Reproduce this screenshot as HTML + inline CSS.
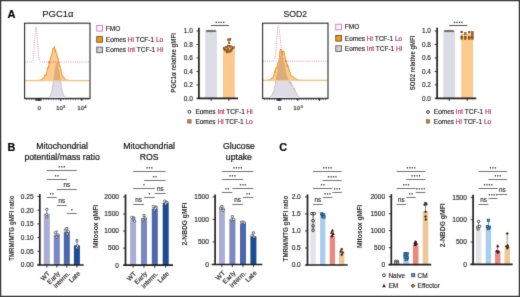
<!DOCTYPE html>
<html><head><meta charset="utf-8"><style>
html,body{margin:0;padding:0;background:#fff;}
body{width:520px;height:297px;overflow:hidden;}
svg{display:block;font-family:"Liberation Sans", sans-serif;filter:blur(0px);}
text{stroke-width:0.16px;}
</style></head><body>
<svg width="520" height="297" viewBox="0 0 520 297" font-family='"Liberation Sans", sans-serif'>
<defs><filter id="soft" x="0" y="0" width="520" height="297" filterUnits="userSpaceOnUse" color-interpolation-filters="sRGB"><feConvolveMatrix order="3" kernelMatrix="0.01134 0.08382 0.01134 0.08382 0.61935 0.08382 0.01134 0.08382 0.01134" divisor="1" edgeMode="duplicate" preserveAlpha="true"/></filter></defs>
<g filter="url(#soft)">
<rect x="0" y="0" width="520" height="297" fill="#fff"/>
<text x="7.60" y="17.60" font-size="10.3" font-weight="bold" fill="#000" stroke="#000" textLength="8.0" lengthAdjust="spacingAndGlyphs">A</text>
<text x="7.60" y="151.20" font-size="10.3" font-weight="bold" fill="#000" stroke="#000" textLength="7.8" lengthAdjust="spacingAndGlyphs">B</text>
<text x="279.20" y="151.20" font-size="10.3" font-weight="bold" fill="#000" stroke="#000" textLength="7.8" lengthAdjust="spacingAndGlyphs">C</text>
<clipPath id="clip24"><rect x="24.6" y="23.2" width="65.4" height="75.39999999999999"/></clipPath>
<g clip-path="url(#clip24)">
<path d="M24.60,97.60 L25.01,97.60 L25.42,97.60 L25.83,97.60 L26.24,97.60 L26.64,97.60 L27.05,97.60 L27.46,97.60 L27.87,97.60 L28.28,97.60 L28.69,97.60 L29.10,97.60 L29.51,97.60 L29.91,97.60 L30.32,97.60 L30.73,97.60 L31.14,97.60 L31.55,97.60 L31.96,97.60 L32.37,97.60 L32.78,97.60 L33.18,97.60 L33.59,97.60 L34.00,97.60 L34.41,97.60 L34.82,97.60 L35.23,97.60 L35.64,97.60 L36.05,97.60 L36.45,97.60 L36.86,97.60 L37.27,97.60 L37.68,97.60 L38.09,97.60 L38.50,97.60 L38.91,97.60 L39.31,97.60 L39.72,97.60 L40.13,97.60 L40.54,97.60 L40.95,97.60 L41.36,97.60 L41.77,97.60 L42.18,97.60 L42.59,97.60 L42.99,97.60 L43.40,97.60 L43.81,97.60 L44.22,97.60 L44.63,97.60 L45.04,97.59 L45.45,97.59 L45.86,97.58 L46.26,97.56 L46.67,97.54 L47.08,97.50 L47.49,97.44 L47.90,97.35 L48.31,97.25 L48.72,97.00 L49.12,96.77 L49.53,96.27 L49.94,95.70 L50.35,95.51 L50.76,94.82 L51.17,92.34 L51.58,92.09 L51.99,90.58 L52.40,86.09 L52.80,85.41 L53.21,81.61 L53.62,79.92 L54.03,76.44 L54.44,75.02 L54.85,70.60 L55.26,67.21 L55.67,66.04 L56.07,63.57 L56.48,62.60 L56.89,64.02 L57.30,61.96 L57.71,63.34 L58.12,65.74 L58.53,68.63 L58.94,68.42 L59.34,72.44 L59.75,74.59 L60.16,77.07 L60.57,80.51 L60.98,82.60 L61.39,86.79 L61.80,87.72 L62.21,90.76 L62.61,91.29 L63.02,92.94 L63.43,95.09 L63.84,95.75 L64.25,96.23 L64.66,96.33 L65.07,96.89 L65.48,97.09 L65.88,97.30 L66.29,97.39 L66.70,97.47 L67.11,97.52 L67.52,97.55 L67.93,97.57 L68.34,97.58 L68.75,97.59 L69.15,97.59 L69.56,97.60 L69.97,97.60 L70.38,97.60 L70.79,97.60 L71.20,97.60 L71.61,97.60 L72.02,97.60 L72.42,97.60 L72.83,97.60 L73.24,97.60 L73.65,97.60 L74.06,97.60 L74.47,97.60 L74.88,97.60 L75.28,97.60 L75.69,97.60 L76.10,97.60 L76.51,97.60 L76.92,97.60 L77.33,97.60 L77.74,97.60 L78.15,97.60 L78.56,97.60 L78.96,97.60 L79.37,97.60 L79.78,97.60 L80.19,97.60 L80.60,97.60 L81.01,97.60 L81.42,97.60 L81.83,97.60 L82.23,97.60 L82.64,97.60 L83.05,97.60 L83.46,97.60 L83.87,97.60 L84.28,97.60 L84.69,97.60 L85.09,97.60 L85.50,97.60 L85.91,97.60 L86.32,97.60 L86.73,97.60 L87.14,97.60 L87.55,97.60 L87.96,97.60 L88.37,97.60 L88.77,97.60 L89.18,97.60 L89.59,97.60 L90.00,97.60 L90.0,97.6 L24.6,97.6 Z" fill="#dedde6"/>
<path d="M24.60,97.60 L25.01,97.60 L25.42,97.60 L25.83,97.60 L26.24,97.60 L26.64,97.60 L27.05,97.60 L27.46,97.60 L27.87,97.60 L28.28,97.60 L28.69,97.60 L29.10,97.60 L29.51,97.60 L29.91,97.60 L30.32,97.60 L30.73,97.60 L31.14,97.60 L31.55,97.60 L31.96,97.60 L32.37,97.60 L32.78,97.60 L33.18,97.60 L33.59,97.60 L34.00,97.60 L34.41,97.60 L34.82,97.60 L35.23,97.60 L35.64,97.60 L36.05,97.60 L36.45,97.60 L36.86,97.60 L37.27,97.60 L37.68,97.60 L38.09,97.60 L38.50,97.60 L38.91,97.60 L39.31,97.60 L39.72,97.60 L40.13,97.60 L40.54,97.60 L40.95,97.60 L41.36,97.60 L41.77,97.60 L42.18,97.60 L42.59,97.60 L42.99,97.60 L43.40,97.60 L43.81,97.60 L44.22,97.60 L44.63,97.60 L45.04,97.59 L45.45,97.59 L45.86,97.58 L46.26,97.56 L46.67,97.54 L47.08,97.50 L47.49,97.44 L47.90,97.35 L48.31,97.25 L48.72,97.00 L49.12,96.77 L49.53,96.27 L49.94,95.70 L50.35,95.51 L50.76,94.82 L51.17,92.34 L51.58,92.09 L51.99,90.58 L52.40,86.09 L52.80,85.41 L53.21,81.61 L53.62,79.92 L54.03,76.44 L54.44,75.02 L54.85,70.60 L55.26,67.21 L55.67,66.04 L56.07,63.57 L56.48,62.60 L56.89,64.02 L57.30,61.96 L57.71,63.34 L58.12,65.74 L58.53,68.63 L58.94,68.42 L59.34,72.44 L59.75,74.59 L60.16,77.07 L60.57,80.51 L60.98,82.60 L61.39,86.79 L61.80,87.72 L62.21,90.76 L62.61,91.29 L63.02,92.94 L63.43,95.09 L63.84,95.75 L64.25,96.23 L64.66,96.33 L65.07,96.89 L65.48,97.09 L65.88,97.30 L66.29,97.39 L66.70,97.47 L67.11,97.52 L67.52,97.55 L67.93,97.57 L68.34,97.58 L68.75,97.59 L69.15,97.59 L69.56,97.60 L69.97,97.60 L70.38,97.60 L70.79,97.60 L71.20,97.60 L71.61,97.60 L72.02,97.60 L72.42,97.60 L72.83,97.60 L73.24,97.60 L73.65,97.60 L74.06,97.60 L74.47,97.60 L74.88,97.60 L75.28,97.60 L75.69,97.60 L76.10,97.60 L76.51,97.60 L76.92,97.60 L77.33,97.60 L77.74,97.60 L78.15,97.60 L78.56,97.60 L78.96,97.60 L79.37,97.60 L79.78,97.60 L80.19,97.60 L80.60,97.60 L81.01,97.60 L81.42,97.60 L81.83,97.60 L82.23,97.60 L82.64,97.60 L83.05,97.60 L83.46,97.60 L83.87,97.60 L84.28,97.60 L84.69,97.60 L85.09,97.60 L85.50,97.60 L85.91,97.60 L86.32,97.60 L86.73,97.60 L87.14,97.60 L87.55,97.60 L87.96,97.60 L88.37,97.60 L88.77,97.60 L89.18,97.60 L89.59,97.60 L90.00,97.60" fill="none" stroke="#a9a8b2" stroke-width="0.55"/>
<path d="M24.60,80.50 L25.01,80.50 L25.42,80.50 L25.83,80.50 L26.24,80.50 L26.64,80.50 L27.05,80.50 L27.46,80.50 L27.87,80.50 L28.28,80.50 L28.69,80.50 L29.10,80.50 L29.51,80.50 L29.91,80.50 L30.32,80.50 L30.73,80.50 L31.14,80.50 L31.55,80.50 L31.96,80.50 L32.37,80.50 L32.78,80.50 L33.18,80.50 L33.59,80.50 L34.00,80.49 L34.41,80.49 L34.82,80.49 L35.23,80.48 L35.64,80.48 L36.05,80.47 L36.45,80.46 L36.86,80.45 L37.27,80.43 L37.68,80.40 L38.09,80.37 L38.50,80.33 L38.91,80.28 L39.31,80.22 L39.72,80.19 L40.13,79.92 L40.54,80.04 L40.95,79.68 L41.36,79.79 L41.77,79.52 L42.18,78.71 L42.59,79.05 L42.99,78.24 L43.40,78.03 L43.81,77.54 L44.22,76.89 L44.63,76.95 L45.04,74.56 L45.45,75.96 L45.86,74.70 L46.26,74.75 L46.67,72.59 L47.08,70.77 L47.49,67.31 L47.90,68.25 L48.31,68.00 L48.72,65.89 L49.12,61.16 L49.53,63.73 L49.94,59.77 L50.35,59.36 L50.76,56.68 L51.17,56.74 L51.58,53.88 L51.99,53.41 L52.40,51.28 L52.80,48.49 L53.21,48.20 L53.62,48.95 L54.03,49.10 L54.44,46.01 L54.85,49.30 L55.26,51.88 L55.67,49.72 L56.07,52.43 L56.48,52.95 L56.89,53.60 L57.30,57.66 L57.71,58.91 L58.12,58.25 L58.53,63.19 L58.94,62.11 L59.34,66.72 L59.75,65.74 L60.16,67.26 L60.57,67.65 L60.98,69.51 L61.39,72.29 L61.80,74.64 L62.21,75.68 L62.61,75.39 L63.02,76.27 L63.43,77.84 L63.84,77.01 L64.25,78.16 L64.66,78.41 L65.07,79.23 L65.48,79.48 L65.88,79.81 L66.29,79.83 L66.70,80.01 L67.11,80.09 L67.52,80.19 L67.93,80.25 L68.34,80.31 L68.75,80.36 L69.15,80.40 L69.56,80.43 L69.97,80.45 L70.38,80.46 L70.79,80.47 L71.20,80.48 L71.61,80.49 L72.02,80.49 L72.42,80.49 L72.83,80.50 L73.24,80.50 L73.65,80.50 L74.06,80.50 L74.47,80.50 L74.88,80.50 L75.28,80.50 L75.69,80.50 L76.10,80.50 L76.51,80.50 L76.92,80.50 L77.33,80.50 L77.74,80.50 L78.15,80.50 L78.56,80.50 L78.96,80.50 L79.37,80.50 L79.78,80.50 L80.19,80.50 L80.60,80.50 L81.01,80.50 L81.42,80.50 L81.83,80.50 L82.23,80.50 L82.64,80.50 L83.05,80.50 L83.46,80.50 L83.87,80.50 L84.28,80.50 L84.69,80.50 L85.09,80.50 L85.50,80.50 L85.91,80.50 L86.32,80.50 L86.73,80.50 L87.14,80.50 L87.55,80.50 L87.96,80.50 L88.37,80.50 L88.77,80.50 L89.18,80.50 L89.59,80.50 L90.00,80.50 L90.0,81.1 L24.6,81.1 Z" fill="#fbc27e" fill-opacity="0.85"/>
<path d="M24.60,80.50 L25.01,80.50 L25.42,80.50 L25.83,80.50 L26.24,80.50 L26.64,80.50 L27.05,80.50 L27.46,80.50 L27.87,80.50 L28.28,80.50 L28.69,80.50 L29.10,80.50 L29.51,80.50 L29.91,80.50 L30.32,80.50 L30.73,80.50 L31.14,80.50 L31.55,80.50 L31.96,80.50 L32.37,80.50 L32.78,80.50 L33.18,80.50 L33.59,80.50 L34.00,80.49 L34.41,80.49 L34.82,80.49 L35.23,80.48 L35.64,80.48 L36.05,80.47 L36.45,80.46 L36.86,80.45 L37.27,80.43 L37.68,80.40 L38.09,80.37 L38.50,80.33 L38.91,80.28 L39.31,80.22 L39.72,80.19 L40.13,79.92 L40.54,80.04 L40.95,79.68 L41.36,79.79 L41.77,79.52 L42.18,78.71 L42.59,79.05 L42.99,78.24 L43.40,78.03 L43.81,77.54 L44.22,76.89 L44.63,76.95 L45.04,74.56 L45.45,75.96 L45.86,74.70 L46.26,74.75 L46.67,72.59 L47.08,70.77 L47.49,67.31 L47.90,68.25 L48.31,68.00 L48.72,65.89 L49.12,61.16 L49.53,63.73 L49.94,59.77 L50.35,59.36 L50.76,56.68 L51.17,56.74 L51.58,53.88 L51.99,53.41 L52.40,51.28 L52.80,48.49 L53.21,48.20 L53.62,48.95 L54.03,49.10 L54.44,46.01 L54.85,49.30 L55.26,51.88 L55.67,49.72 L56.07,52.43 L56.48,52.95 L56.89,53.60 L57.30,57.66 L57.71,58.91 L58.12,58.25 L58.53,63.19 L58.94,62.11 L59.34,66.72 L59.75,65.74 L60.16,67.26 L60.57,67.65 L60.98,69.51 L61.39,72.29 L61.80,74.64 L62.21,75.68 L62.61,75.39 L63.02,76.27 L63.43,77.84 L63.84,77.01 L64.25,78.16 L64.66,78.41 L65.07,79.23 L65.48,79.48 L65.88,79.81 L66.29,79.83 L66.70,80.01 L67.11,80.09 L67.52,80.19 L67.93,80.25 L68.34,80.31 L68.75,80.36 L69.15,80.40 L69.56,80.43 L69.97,80.45 L70.38,80.46 L70.79,80.47 L71.20,80.48 L71.61,80.49 L72.02,80.49 L72.42,80.49 L72.83,80.50 L73.24,80.50 L73.65,80.50 L74.06,80.50 L74.47,80.50 L74.88,80.50 L75.28,80.50 L75.69,80.50 L76.10,80.50 L76.51,80.50 L76.92,80.50 L77.33,80.50 L77.74,80.50 L78.15,80.50 L78.56,80.50 L78.96,80.50 L79.37,80.50 L79.78,80.50 L80.19,80.50 L80.60,80.50 L81.01,80.50 L81.42,80.50 L81.83,80.50 L82.23,80.50 L82.64,80.50 L83.05,80.50 L83.46,80.50 L83.87,80.50 L84.28,80.50 L84.69,80.50 L85.09,80.50 L85.50,80.50 L85.91,80.50 L86.32,80.50 L86.73,80.50 L87.14,80.50 L87.55,80.50 L87.96,80.50 L88.37,80.50 L88.77,80.50 L89.18,80.50 L89.59,80.50 L90.00,80.50" fill="none" stroke="#ea9016" stroke-width="0.9"/>
<clipPath id="clip24o"><path d="M24.60,80.50 L25.01,80.50 L25.42,80.50 L25.83,80.50 L26.24,80.50 L26.64,80.50 L27.05,80.50 L27.46,80.50 L27.87,80.50 L28.28,80.50 L28.69,80.50 L29.10,80.50 L29.51,80.50 L29.91,80.50 L30.32,80.50 L30.73,80.50 L31.14,80.50 L31.55,80.50 L31.96,80.50 L32.37,80.50 L32.78,80.50 L33.18,80.50 L33.59,80.50 L34.00,80.49 L34.41,80.49 L34.82,80.49 L35.23,80.48 L35.64,80.48 L36.05,80.47 L36.45,80.46 L36.86,80.45 L37.27,80.43 L37.68,80.40 L38.09,80.37 L38.50,80.33 L38.91,80.28 L39.31,80.22 L39.72,80.19 L40.13,79.92 L40.54,80.04 L40.95,79.68 L41.36,79.79 L41.77,79.52 L42.18,78.71 L42.59,79.05 L42.99,78.24 L43.40,78.03 L43.81,77.54 L44.22,76.89 L44.63,76.95 L45.04,74.56 L45.45,75.96 L45.86,74.70 L46.26,74.75 L46.67,72.59 L47.08,70.77 L47.49,67.31 L47.90,68.25 L48.31,68.00 L48.72,65.89 L49.12,61.16 L49.53,63.73 L49.94,59.77 L50.35,59.36 L50.76,56.68 L51.17,56.74 L51.58,53.88 L51.99,53.41 L52.40,51.28 L52.80,48.49 L53.21,48.20 L53.62,48.95 L54.03,49.10 L54.44,46.01 L54.85,49.30 L55.26,51.88 L55.67,49.72 L56.07,52.43 L56.48,52.95 L56.89,53.60 L57.30,57.66 L57.71,58.91 L58.12,58.25 L58.53,63.19 L58.94,62.11 L59.34,66.72 L59.75,65.74 L60.16,67.26 L60.57,67.65 L60.98,69.51 L61.39,72.29 L61.80,74.64 L62.21,75.68 L62.61,75.39 L63.02,76.27 L63.43,77.84 L63.84,77.01 L64.25,78.16 L64.66,78.41 L65.07,79.23 L65.48,79.48 L65.88,79.81 L66.29,79.83 L66.70,80.01 L67.11,80.09 L67.52,80.19 L67.93,80.25 L68.34,80.31 L68.75,80.36 L69.15,80.40 L69.56,80.43 L69.97,80.45 L70.38,80.46 L70.79,80.47 L71.20,80.48 L71.61,80.49 L72.02,80.49 L72.42,80.49 L72.83,80.50 L73.24,80.50 L73.65,80.50 L74.06,80.50 L74.47,80.50 L74.88,80.50 L75.28,80.50 L75.69,80.50 L76.10,80.50 L76.51,80.50 L76.92,80.50 L77.33,80.50 L77.74,80.50 L78.15,80.50 L78.56,80.50 L78.96,80.50 L79.37,80.50 L79.78,80.50 L80.19,80.50 L80.60,80.50 L81.01,80.50 L81.42,80.50 L81.83,80.50 L82.23,80.50 L82.64,80.50 L83.05,80.50 L83.46,80.50 L83.87,80.50 L84.28,80.50 L84.69,80.50 L85.09,80.50 L85.50,80.50 L85.91,80.50 L86.32,80.50 L86.73,80.50 L87.14,80.50 L87.55,80.50 L87.96,80.50 L88.37,80.50 L88.77,80.50 L89.18,80.50 L89.59,80.50 L90.00,80.50 L90.0,80.5 L24.6,80.5 Z"/></clipPath>
<path d="M24.60,97.60 L25.01,97.60 L25.42,97.60 L25.83,97.60 L26.24,97.60 L26.64,97.60 L27.05,97.60 L27.46,97.60 L27.87,97.60 L28.28,97.60 L28.69,97.60 L29.10,97.60 L29.51,97.60 L29.91,97.60 L30.32,97.60 L30.73,97.60 L31.14,97.60 L31.55,97.60 L31.96,97.60 L32.37,97.60 L32.78,97.60 L33.18,97.60 L33.59,97.60 L34.00,97.60 L34.41,97.60 L34.82,97.60 L35.23,97.60 L35.64,97.60 L36.05,97.60 L36.45,97.60 L36.86,97.60 L37.27,97.60 L37.68,97.60 L38.09,97.60 L38.50,97.60 L38.91,97.60 L39.31,97.60 L39.72,97.60 L40.13,97.60 L40.54,97.60 L40.95,97.60 L41.36,97.60 L41.77,97.60 L42.18,97.60 L42.59,97.60 L42.99,97.60 L43.40,97.60 L43.81,97.60 L44.22,97.60 L44.63,97.60 L45.04,97.59 L45.45,97.59 L45.86,97.58 L46.26,97.56 L46.67,97.54 L47.08,97.50 L47.49,97.44 L47.90,97.35 L48.31,97.25 L48.72,97.00 L49.12,96.77 L49.53,96.27 L49.94,95.70 L50.35,95.51 L50.76,94.82 L51.17,92.34 L51.58,92.09 L51.99,90.58 L52.40,86.09 L52.80,85.41 L53.21,81.61 L53.62,79.92 L54.03,76.44 L54.44,75.02 L54.85,70.60 L55.26,67.21 L55.67,66.04 L56.07,63.57 L56.48,62.60 L56.89,64.02 L57.30,61.96 L57.71,63.34 L58.12,65.74 L58.53,68.63 L58.94,68.42 L59.34,72.44 L59.75,74.59 L60.16,77.07 L60.57,80.51 L60.98,82.60 L61.39,86.79 L61.80,87.72 L62.21,90.76 L62.61,91.29 L63.02,92.94 L63.43,95.09 L63.84,95.75 L64.25,96.23 L64.66,96.33 L65.07,96.89 L65.48,97.09 L65.88,97.30 L66.29,97.39 L66.70,97.47 L67.11,97.52 L67.52,97.55 L67.93,97.57 L68.34,97.58 L68.75,97.59 L69.15,97.59 L69.56,97.60 L69.97,97.60 L70.38,97.60 L70.79,97.60 L71.20,97.60 L71.61,97.60 L72.02,97.60 L72.42,97.60 L72.83,97.60 L73.24,97.60 L73.65,97.60 L74.06,97.60 L74.47,97.60 L74.88,97.60 L75.28,97.60 L75.69,97.60 L76.10,97.60 L76.51,97.60 L76.92,97.60 L77.33,97.60 L77.74,97.60 L78.15,97.60 L78.56,97.60 L78.96,97.60 L79.37,97.60 L79.78,97.60 L80.19,97.60 L80.60,97.60 L81.01,97.60 L81.42,97.60 L81.83,97.60 L82.23,97.60 L82.64,97.60 L83.05,97.60 L83.46,97.60 L83.87,97.60 L84.28,97.60 L84.69,97.60 L85.09,97.60 L85.50,97.60 L85.91,97.60 L86.32,97.60 L86.73,97.60 L87.14,97.60 L87.55,97.60 L87.96,97.60 L88.37,97.60 L88.77,97.60 L89.18,97.60 L89.59,97.60 L90.00,97.60 L90.0,97.6 L24.6,97.6 Z" fill="#b88a5a" fill-opacity="0.42" clip-path="url(#clip24o)"/>
<line x1="24.60" y1="80.80" x2="90.00" y2="80.80" stroke="#f8cc98" stroke-width="0.8"/>
<path d="M24.60,62.00 L24.90,62.00 L25.19,62.00 L25.49,62.00 L25.79,62.00 L26.09,62.00 L26.38,62.00 L26.68,62.00 L26.98,62.00 L27.28,62.00 L27.57,62.00 L27.87,62.00 L28.17,62.00 L28.46,62.00 L28.76,62.00 L29.06,62.00 L29.36,62.00 L29.65,62.00 L29.95,62.00 L30.25,62.00 L30.55,61.99 L30.84,61.99 L31.14,61.97 L31.44,61.93 L31.73,61.84 L32.03,61.67 L32.33,61.35 L32.63,60.79 L32.92,59.87 L33.22,58.44 L33.52,56.34 L33.82,53.47 L34.11,49.80 L34.41,45.43 L34.71,40.65 L35.00,35.89 L35.30,31.70 L35.60,28.63 L35.90,27.11 L36.19,27.31 L36.49,28.95 L36.79,31.81 L37.09,35.55 L37.38,39.79 L37.68,44.11 L37.98,48.19 L38.27,51.77 L38.57,54.74 L38.87,57.06 L39.17,58.77 L39.46,59.98 L39.76,60.79 L40.06,61.30 L40.36,61.62 L40.65,61.80 L40.95,61.90 L41.25,61.95 L41.54,61.98 L41.84,61.99 L42.14,62.00 L42.44,62.00 L42.73,62.00 L43.03,62.00 L43.33,62.00 L43.63,62.00 L43.92,62.00 L44.22,62.00 L44.52,62.00 L44.81,62.00 L45.11,62.00 L45.41,62.00 L45.71,62.00 L46.00,62.00 L46.30,62.00 L46.60,62.00 L46.90,62.00 L47.19,62.00 L47.49,62.00 L47.79,62.00 L48.08,62.00 L48.38,62.00 L48.68,62.00 L48.98,62.00 L49.27,62.00 L49.57,62.00 L49.87,62.00 L50.17,62.00 L50.46,62.00 L50.76,62.00 L51.06,62.00 L51.35,62.00 L51.65,62.00 L51.95,62.00 L52.25,62.00 L52.54,62.00 L52.84,62.00 L53.14,62.00 L53.44,62.00 L53.73,62.00 L54.03,62.00 L54.33,62.00 L54.62,62.00 L54.92,62.00 L55.22,62.00 L55.52,62.00 L55.81,62.00 L56.11,62.00 L56.41,62.00 L56.71,62.00 L57.00,62.00 L57.30,62.00 L57.60,62.00 L57.89,62.00 L58.19,62.00 L58.49,62.00 L58.79,62.00 L59.08,62.00 L59.38,62.00 L59.68,62.00 L59.98,62.00 L60.27,62.00 L60.57,62.00 L60.87,62.00 L61.16,62.00 L61.46,62.00 L61.76,62.00 L62.06,62.00 L62.35,62.00 L62.65,62.00 L62.95,62.00 L63.25,62.00 L63.54,62.00 L63.84,62.00 L64.14,62.00 L64.43,62.00 L64.73,62.00 L65.03,62.00 L65.33,62.00 L65.62,62.00 L65.92,62.00 L66.22,62.00 L66.52,62.00 L66.81,62.00 L67.11,62.00 L67.41,62.00 L67.70,62.00 L68.00,62.00 L68.30,62.00 L68.60,62.00 L68.89,62.00 L69.19,62.00 L69.49,62.00 L69.79,62.00 L70.08,62.00 L70.38,62.00 L70.68,62.00 L70.97,62.00 L71.27,62.00 L71.57,62.00 L71.87,62.00 L72.16,62.00 L72.46,62.00 L72.76,62.00 L73.06,62.00 L73.35,62.00 L73.65,62.00 L73.95,62.00 L74.24,62.00 L74.54,62.00 L74.84,62.00 L75.14,62.00 L75.43,62.00 L75.73,62.00 L76.03,62.00 L76.33,62.00 L76.62,62.00 L76.92,62.00 L77.22,62.00 L77.51,62.00 L77.81,62.00 L78.11,62.00 L78.41,62.00 L78.70,62.00 L79.00,62.00 L79.30,62.00 L79.60,62.00 L79.89,62.00 L80.19,62.00 L80.49,62.00 L80.78,62.00 L81.08,62.00 L81.38,62.00 L81.68,62.00 L81.97,62.00 L82.27,62.00 L82.57,62.00 L82.87,62.00 L83.16,62.00 L83.46,62.00 L83.76,62.00 L84.05,62.00 L84.35,62.00 L84.65,62.00 L84.95,62.00 L85.24,62.00 L85.54,62.00 L85.84,62.00 L86.14,62.00 L86.43,62.00 L86.73,62.00 L87.03,62.00 L87.32,62.00 L87.62,62.00 L87.92,62.00 L88.22,62.00 L88.51,62.00 L88.81,62.00 L89.11,62.00 L89.41,62.00 L89.70,62.00 L90.00,62.00" fill="none" stroke="#d9418a" stroke-width="0.8" stroke-dasharray="0.9 1.3" stroke-opacity="0.9"/>
</g>
<rect x="24.60" y="23.20" width="65.40" height="75.40" fill="none" stroke="#2b2b2b" stroke-width="1.1"/>
<line x1="26.60" y1="98.60" x2="26.60" y2="100.10" stroke="#333" stroke-width="0.7"/>
<line x1="29.05" y1="98.60" x2="29.05" y2="100.10" stroke="#333" stroke-width="0.7"/>
<line x1="31.50" y1="98.60" x2="31.50" y2="100.10" stroke="#333" stroke-width="0.7"/>
<line x1="33.95" y1="98.60" x2="33.95" y2="100.10" stroke="#333" stroke-width="0.7"/>
<line x1="36.40" y1="98.60" x2="36.40" y2="100.10" stroke="#333" stroke-width="0.7"/>
<line x1="38.85" y1="98.60" x2="38.85" y2="100.10" stroke="#333" stroke-width="0.7"/>
<line x1="41.30" y1="98.60" x2="41.30" y2="100.10" stroke="#333" stroke-width="0.7"/>
<line x1="43.75" y1="98.60" x2="43.75" y2="100.10" stroke="#333" stroke-width="0.7"/>
<line x1="46.20" y1="98.60" x2="46.20" y2="100.10" stroke="#333" stroke-width="0.7"/>
<line x1="48.65" y1="98.60" x2="48.65" y2="100.10" stroke="#333" stroke-width="0.7"/>
<line x1="51.10" y1="98.60" x2="51.10" y2="100.10" stroke="#333" stroke-width="0.7"/>
<line x1="53.55" y1="98.60" x2="53.55" y2="100.10" stroke="#333" stroke-width="0.7"/>
<line x1="56.00" y1="98.60" x2="56.00" y2="100.10" stroke="#333" stroke-width="0.7"/>
<line x1="58.45" y1="98.60" x2="58.45" y2="100.10" stroke="#333" stroke-width="0.7"/>
<line x1="60.90" y1="98.60" x2="60.90" y2="100.10" stroke="#333" stroke-width="0.7"/>
<line x1="63.35" y1="98.60" x2="63.35" y2="100.10" stroke="#333" stroke-width="0.7"/>
<line x1="65.80" y1="98.60" x2="65.80" y2="100.10" stroke="#333" stroke-width="0.7"/>
<line x1="68.25" y1="98.60" x2="68.25" y2="100.10" stroke="#333" stroke-width="0.7"/>
<line x1="70.70" y1="98.60" x2="70.70" y2="100.10" stroke="#333" stroke-width="0.7"/>
<line x1="73.15" y1="98.60" x2="73.15" y2="100.10" stroke="#333" stroke-width="0.7"/>
<line x1="75.60" y1="98.60" x2="75.60" y2="100.10" stroke="#333" stroke-width="0.7"/>
<line x1="78.05" y1="98.60" x2="78.05" y2="100.10" stroke="#333" stroke-width="0.7"/>
<line x1="80.50" y1="98.60" x2="80.50" y2="100.10" stroke="#333" stroke-width="0.7"/>
<line x1="82.95" y1="98.60" x2="82.95" y2="100.10" stroke="#333" stroke-width="0.7"/>
<line x1="85.40" y1="98.60" x2="85.40" y2="100.10" stroke="#333" stroke-width="0.7"/>
<line x1="87.85" y1="98.60" x2="87.85" y2="100.10" stroke="#333" stroke-width="0.7"/>
<line x1="36.00" y1="98.60" x2="36.00" y2="101.00" stroke="#111" stroke-width="0.9"/>
<line x1="37.20" y1="98.60" x2="37.20" y2="101.00" stroke="#111" stroke-width="0.9"/>
<line x1="38.40" y1="98.60" x2="38.40" y2="101.00" stroke="#111" stroke-width="0.9"/>
<line x1="39.60" y1="98.60" x2="39.60" y2="101.00" stroke="#111" stroke-width="0.9"/>
<line x1="40.80" y1="98.60" x2="40.80" y2="101.00" stroke="#111" stroke-width="0.9"/>
<line x1="60.60" y1="98.60" x2="60.60" y2="101.00" stroke="#111" stroke-width="0.9"/>
<line x1="81.80" y1="98.60" x2="81.80" y2="101.00" stroke="#111" stroke-width="0.9"/>
<text x="57.90" y="17.10" font-size="8.7" text-anchor="middle" fill="#111" stroke="#111" textLength="31.2" lengthAdjust="spacingAndGlyphs" style="stroke-width:0.12px">PGC1α</text>
<text x="39.30" y="110.20" font-size="6.2" text-anchor="middle" fill="#231f20" stroke="#231f20">0</text>
<text x="59.40" y="110.20" font-size="6.2" text-anchor="middle" fill="#231f20" stroke="#231f20">10</text>
<text x="80.70" y="110.20" font-size="6.2" text-anchor="middle" fill="#231f20" stroke="#231f20">10</text>
<text x="63.00" y="107.90" font-size="4.2" fill="#231f20" stroke="#231f20">3</text>
<text x="84.30" y="107.90" font-size="4.2" fill="#231f20" stroke="#231f20">4</text>
<clipPath id="clip262"><rect x="262.6" y="23.2" width="65.39999999999998" height="75.39999999999999"/></clipPath>
<g clip-path="url(#clip262)">
<path d="M262.60,97.40 L263.01,97.40 L263.42,97.40 L263.83,97.40 L264.24,97.40 L264.64,97.40 L265.05,97.39 L265.46,97.39 L265.87,97.39 L266.28,97.38 L266.69,97.37 L267.10,97.35 L267.50,97.33 L267.91,97.29 L268.32,97.24 L268.73,97.18 L269.14,97.09 L269.55,96.95 L269.96,96.70 L270.37,96.59 L270.78,96.30 L271.18,95.89 L271.59,95.73 L272.00,94.90 L272.41,94.05 L272.82,92.89 L273.23,93.16 L273.64,91.62 L274.05,90.98 L274.45,87.11 L274.86,85.66 L275.27,85.71 L275.68,80.47 L276.09,78.13 L276.50,76.59 L276.91,74.08 L277.31,72.88 L277.72,70.68 L278.13,66.47 L278.54,65.55 L278.95,62.94 L279.36,60.88 L279.77,60.00 L280.18,57.47 L280.59,56.83 L280.99,55.30 L281.40,56.47 L281.81,56.48 L282.22,57.60 L282.63,57.99 L283.04,59.79 L283.45,61.71 L283.86,60.93 L284.26,62.61 L284.67,64.88 L285.08,67.16 L285.49,70.29 L285.90,72.44 L286.31,74.06 L286.72,76.48 L287.12,75.84 L287.53,78.44 L287.94,78.24 L288.35,80.75 L288.76,79.75 L289.17,80.75 L289.58,83.96 L289.99,83.67 L290.40,81.75 L290.80,83.47 L291.21,82.21 L291.62,84.53 L292.03,86.16 L292.44,85.09 L292.85,85.44 L293.26,87.95 L293.67,89.40 L294.07,89.39 L294.48,88.00 L294.89,89.20 L295.30,91.48 L295.71,91.61 L296.12,92.59 L296.53,93.44 L296.94,93.20 L297.34,95.03 L297.75,95.54 L298.16,96.29 L298.57,96.81 L298.98,96.98 L299.39,97.18 L299.80,97.28 L300.20,97.33 L300.61,97.36 L301.02,97.37 L301.43,97.38 L301.84,97.39 L302.25,97.39 L302.66,97.40 L303.07,97.40 L303.48,97.40 L303.88,97.40 L304.29,97.40 L304.70,97.40 L305.11,97.40 L305.52,97.40 L305.93,97.40 L306.34,97.40 L306.75,97.40 L307.15,97.40 L307.56,97.40 L307.97,97.40 L308.38,97.40 L308.79,97.40 L309.20,97.40 L309.61,97.40 L310.01,97.40 L310.42,97.40 L310.83,97.40 L311.24,97.40 L311.65,97.40 L312.06,97.40 L312.47,97.40 L312.88,97.40 L313.29,97.40 L313.69,97.40 L314.10,97.40 L314.51,97.40 L314.92,97.40 L315.33,97.40 L315.74,97.40 L316.15,97.40 L316.56,97.40 L316.96,97.40 L317.37,97.40 L317.78,97.40 L318.19,97.40 L318.60,97.40 L319.01,97.40 L319.42,97.40 L319.82,97.40 L320.23,97.40 L320.64,97.40 L321.05,97.40 L321.46,97.40 L321.87,97.40 L322.28,97.40 L322.69,97.40 L323.10,97.40 L323.50,97.40 L323.91,97.40 L324.32,97.40 L324.73,97.40 L325.14,97.40 L325.55,97.40 L325.96,97.40 L326.37,97.40 L326.77,97.40 L327.18,97.40 L327.59,97.40 L328.00,97.40 L328.0,97.4 L262.6,97.4 Z" fill="#dedde6"/>
<path d="M262.60,97.40 L263.01,97.40 L263.42,97.40 L263.83,97.40 L264.24,97.40 L264.64,97.40 L265.05,97.39 L265.46,97.39 L265.87,97.39 L266.28,97.38 L266.69,97.37 L267.10,97.35 L267.50,97.33 L267.91,97.29 L268.32,97.24 L268.73,97.18 L269.14,97.09 L269.55,96.95 L269.96,96.70 L270.37,96.59 L270.78,96.30 L271.18,95.89 L271.59,95.73 L272.00,94.90 L272.41,94.05 L272.82,92.89 L273.23,93.16 L273.64,91.62 L274.05,90.98 L274.45,87.11 L274.86,85.66 L275.27,85.71 L275.68,80.47 L276.09,78.13 L276.50,76.59 L276.91,74.08 L277.31,72.88 L277.72,70.68 L278.13,66.47 L278.54,65.55 L278.95,62.94 L279.36,60.88 L279.77,60.00 L280.18,57.47 L280.59,56.83 L280.99,55.30 L281.40,56.47 L281.81,56.48 L282.22,57.60 L282.63,57.99 L283.04,59.79 L283.45,61.71 L283.86,60.93 L284.26,62.61 L284.67,64.88 L285.08,67.16 L285.49,70.29 L285.90,72.44 L286.31,74.06 L286.72,76.48 L287.12,75.84 L287.53,78.44 L287.94,78.24 L288.35,80.75 L288.76,79.75 L289.17,80.75 L289.58,83.96 L289.99,83.67 L290.40,81.75 L290.80,83.47 L291.21,82.21 L291.62,84.53 L292.03,86.16 L292.44,85.09 L292.85,85.44 L293.26,87.95 L293.67,89.40 L294.07,89.39 L294.48,88.00 L294.89,89.20 L295.30,91.48 L295.71,91.61 L296.12,92.59 L296.53,93.44 L296.94,93.20 L297.34,95.03 L297.75,95.54 L298.16,96.29 L298.57,96.81 L298.98,96.98 L299.39,97.18 L299.80,97.28 L300.20,97.33 L300.61,97.36 L301.02,97.37 L301.43,97.38 L301.84,97.39 L302.25,97.39 L302.66,97.40 L303.07,97.40 L303.48,97.40 L303.88,97.40 L304.29,97.40 L304.70,97.40 L305.11,97.40 L305.52,97.40 L305.93,97.40 L306.34,97.40 L306.75,97.40 L307.15,97.40 L307.56,97.40 L307.97,97.40 L308.38,97.40 L308.79,97.40 L309.20,97.40 L309.61,97.40 L310.01,97.40 L310.42,97.40 L310.83,97.40 L311.24,97.40 L311.65,97.40 L312.06,97.40 L312.47,97.40 L312.88,97.40 L313.29,97.40 L313.69,97.40 L314.10,97.40 L314.51,97.40 L314.92,97.40 L315.33,97.40 L315.74,97.40 L316.15,97.40 L316.56,97.40 L316.96,97.40 L317.37,97.40 L317.78,97.40 L318.19,97.40 L318.60,97.40 L319.01,97.40 L319.42,97.40 L319.82,97.40 L320.23,97.40 L320.64,97.40 L321.05,97.40 L321.46,97.40 L321.87,97.40 L322.28,97.40 L322.69,97.40 L323.10,97.40 L323.50,97.40 L323.91,97.40 L324.32,97.40 L324.73,97.40 L325.14,97.40 L325.55,97.40 L325.96,97.40 L326.37,97.40 L326.77,97.40 L327.18,97.40 L327.59,97.40 L328.00,97.40" fill="none" stroke="#a9a8b2" stroke-width="0.55"/>
<path d="M262.60,80.30 L263.01,80.30 L263.42,80.29 L263.83,80.29 L264.24,80.29 L264.64,80.28 L265.05,80.27 L265.46,80.26 L265.87,80.25 L266.28,80.23 L266.69,80.21 L267.10,80.18 L267.50,80.14 L267.91,80.08 L268.32,80.01 L268.73,79.96 L269.14,79.83 L269.55,79.71 L269.96,79.54 L270.37,79.36 L270.78,78.96 L271.18,78.97 L271.59,78.27 L272.00,78.61 L272.41,77.80 L272.82,77.23 L273.23,77.06 L273.64,74.89 L274.05,75.28 L274.45,72.72 L274.86,70.84 L275.27,72.70 L275.68,68.68 L276.09,67.78 L276.50,67.04 L276.91,68.46 L277.31,65.13 L277.72,62.93 L278.13,62.93 L278.54,61.78 L278.95,59.75 L279.36,57.61 L279.77,51.83 L280.18,50.40 L280.59,49.05 L280.99,49.60 L281.40,50.12 L281.81,53.90 L282.22,55.22 L282.63,51.17 L283.04,51.56 L283.45,50.87 L283.86,50.94 L284.26,52.38 L284.67,54.87 L285.08,57.08 L285.49,58.68 L285.90,62.06 L286.31,60.69 L286.72,61.94 L287.12,66.47 L287.53,64.19 L287.94,67.08 L288.35,66.48 L288.76,69.64 L289.17,69.35 L289.58,71.87 L289.99,72.09 L290.40,73.37 L290.80,75.70 L291.21,75.77 L291.62,75.94 L292.03,75.89 L292.44,76.39 L292.85,76.42 L293.26,76.61 L293.67,77.44 L294.07,77.89 L294.48,77.94 L294.89,77.74 L295.30,78.26 L295.71,78.66 L296.12,78.80 L296.53,79.39 L296.94,79.62 L297.34,79.75 L297.75,79.85 L298.16,79.97 L298.57,79.93 L298.98,80.03 L299.39,80.10 L299.80,80.15 L300.20,80.19 L300.61,80.22 L301.02,80.25 L301.43,80.26 L301.84,80.27 L302.25,80.28 L302.66,80.29 L303.07,80.29 L303.48,80.30 L303.88,80.30 L304.29,80.30 L304.70,80.30 L305.11,80.30 L305.52,80.30 L305.93,80.30 L306.34,80.30 L306.75,80.30 L307.15,80.30 L307.56,80.30 L307.97,80.30 L308.38,80.30 L308.79,80.30 L309.20,80.30 L309.61,80.30 L310.01,80.30 L310.42,80.30 L310.83,80.30 L311.24,80.30 L311.65,80.30 L312.06,80.30 L312.47,80.30 L312.88,80.30 L313.29,80.30 L313.69,80.30 L314.10,80.30 L314.51,80.30 L314.92,80.30 L315.33,80.30 L315.74,80.30 L316.15,80.30 L316.56,80.30 L316.96,80.30 L317.37,80.30 L317.78,80.30 L318.19,80.30 L318.60,80.30 L319.01,80.30 L319.42,80.30 L319.82,80.30 L320.23,80.30 L320.64,80.30 L321.05,80.30 L321.46,80.30 L321.87,80.30 L322.28,80.30 L322.69,80.30 L323.10,80.30 L323.50,80.30 L323.91,80.30 L324.32,80.30 L324.73,80.30 L325.14,80.30 L325.55,80.30 L325.96,80.30 L326.37,80.30 L326.77,80.30 L327.18,80.30 L327.59,80.30 L328.00,80.30 L328.0,80.89999999999999 L262.6,80.89999999999999 Z" fill="#fbc27e" fill-opacity="0.85"/>
<path d="M262.60,80.30 L263.01,80.30 L263.42,80.29 L263.83,80.29 L264.24,80.29 L264.64,80.28 L265.05,80.27 L265.46,80.26 L265.87,80.25 L266.28,80.23 L266.69,80.21 L267.10,80.18 L267.50,80.14 L267.91,80.08 L268.32,80.01 L268.73,79.96 L269.14,79.83 L269.55,79.71 L269.96,79.54 L270.37,79.36 L270.78,78.96 L271.18,78.97 L271.59,78.27 L272.00,78.61 L272.41,77.80 L272.82,77.23 L273.23,77.06 L273.64,74.89 L274.05,75.28 L274.45,72.72 L274.86,70.84 L275.27,72.70 L275.68,68.68 L276.09,67.78 L276.50,67.04 L276.91,68.46 L277.31,65.13 L277.72,62.93 L278.13,62.93 L278.54,61.78 L278.95,59.75 L279.36,57.61 L279.77,51.83 L280.18,50.40 L280.59,49.05 L280.99,49.60 L281.40,50.12 L281.81,53.90 L282.22,55.22 L282.63,51.17 L283.04,51.56 L283.45,50.87 L283.86,50.94 L284.26,52.38 L284.67,54.87 L285.08,57.08 L285.49,58.68 L285.90,62.06 L286.31,60.69 L286.72,61.94 L287.12,66.47 L287.53,64.19 L287.94,67.08 L288.35,66.48 L288.76,69.64 L289.17,69.35 L289.58,71.87 L289.99,72.09 L290.40,73.37 L290.80,75.70 L291.21,75.77 L291.62,75.94 L292.03,75.89 L292.44,76.39 L292.85,76.42 L293.26,76.61 L293.67,77.44 L294.07,77.89 L294.48,77.94 L294.89,77.74 L295.30,78.26 L295.71,78.66 L296.12,78.80 L296.53,79.39 L296.94,79.62 L297.34,79.75 L297.75,79.85 L298.16,79.97 L298.57,79.93 L298.98,80.03 L299.39,80.10 L299.80,80.15 L300.20,80.19 L300.61,80.22 L301.02,80.25 L301.43,80.26 L301.84,80.27 L302.25,80.28 L302.66,80.29 L303.07,80.29 L303.48,80.30 L303.88,80.30 L304.29,80.30 L304.70,80.30 L305.11,80.30 L305.52,80.30 L305.93,80.30 L306.34,80.30 L306.75,80.30 L307.15,80.30 L307.56,80.30 L307.97,80.30 L308.38,80.30 L308.79,80.30 L309.20,80.30 L309.61,80.30 L310.01,80.30 L310.42,80.30 L310.83,80.30 L311.24,80.30 L311.65,80.30 L312.06,80.30 L312.47,80.30 L312.88,80.30 L313.29,80.30 L313.69,80.30 L314.10,80.30 L314.51,80.30 L314.92,80.30 L315.33,80.30 L315.74,80.30 L316.15,80.30 L316.56,80.30 L316.96,80.30 L317.37,80.30 L317.78,80.30 L318.19,80.30 L318.60,80.30 L319.01,80.30 L319.42,80.30 L319.82,80.30 L320.23,80.30 L320.64,80.30 L321.05,80.30 L321.46,80.30 L321.87,80.30 L322.28,80.30 L322.69,80.30 L323.10,80.30 L323.50,80.30 L323.91,80.30 L324.32,80.30 L324.73,80.30 L325.14,80.30 L325.55,80.30 L325.96,80.30 L326.37,80.30 L326.77,80.30 L327.18,80.30 L327.59,80.30 L328.00,80.30" fill="none" stroke="#ea9016" stroke-width="0.9"/>
<clipPath id="clip262o"><path d="M262.60,80.30 L263.01,80.30 L263.42,80.29 L263.83,80.29 L264.24,80.29 L264.64,80.28 L265.05,80.27 L265.46,80.26 L265.87,80.25 L266.28,80.23 L266.69,80.21 L267.10,80.18 L267.50,80.14 L267.91,80.08 L268.32,80.01 L268.73,79.96 L269.14,79.83 L269.55,79.71 L269.96,79.54 L270.37,79.36 L270.78,78.96 L271.18,78.97 L271.59,78.27 L272.00,78.61 L272.41,77.80 L272.82,77.23 L273.23,77.06 L273.64,74.89 L274.05,75.28 L274.45,72.72 L274.86,70.84 L275.27,72.70 L275.68,68.68 L276.09,67.78 L276.50,67.04 L276.91,68.46 L277.31,65.13 L277.72,62.93 L278.13,62.93 L278.54,61.78 L278.95,59.75 L279.36,57.61 L279.77,51.83 L280.18,50.40 L280.59,49.05 L280.99,49.60 L281.40,50.12 L281.81,53.90 L282.22,55.22 L282.63,51.17 L283.04,51.56 L283.45,50.87 L283.86,50.94 L284.26,52.38 L284.67,54.87 L285.08,57.08 L285.49,58.68 L285.90,62.06 L286.31,60.69 L286.72,61.94 L287.12,66.47 L287.53,64.19 L287.94,67.08 L288.35,66.48 L288.76,69.64 L289.17,69.35 L289.58,71.87 L289.99,72.09 L290.40,73.37 L290.80,75.70 L291.21,75.77 L291.62,75.94 L292.03,75.89 L292.44,76.39 L292.85,76.42 L293.26,76.61 L293.67,77.44 L294.07,77.89 L294.48,77.94 L294.89,77.74 L295.30,78.26 L295.71,78.66 L296.12,78.80 L296.53,79.39 L296.94,79.62 L297.34,79.75 L297.75,79.85 L298.16,79.97 L298.57,79.93 L298.98,80.03 L299.39,80.10 L299.80,80.15 L300.20,80.19 L300.61,80.22 L301.02,80.25 L301.43,80.26 L301.84,80.27 L302.25,80.28 L302.66,80.29 L303.07,80.29 L303.48,80.30 L303.88,80.30 L304.29,80.30 L304.70,80.30 L305.11,80.30 L305.52,80.30 L305.93,80.30 L306.34,80.30 L306.75,80.30 L307.15,80.30 L307.56,80.30 L307.97,80.30 L308.38,80.30 L308.79,80.30 L309.20,80.30 L309.61,80.30 L310.01,80.30 L310.42,80.30 L310.83,80.30 L311.24,80.30 L311.65,80.30 L312.06,80.30 L312.47,80.30 L312.88,80.30 L313.29,80.30 L313.69,80.30 L314.10,80.30 L314.51,80.30 L314.92,80.30 L315.33,80.30 L315.74,80.30 L316.15,80.30 L316.56,80.30 L316.96,80.30 L317.37,80.30 L317.78,80.30 L318.19,80.30 L318.60,80.30 L319.01,80.30 L319.42,80.30 L319.82,80.30 L320.23,80.30 L320.64,80.30 L321.05,80.30 L321.46,80.30 L321.87,80.30 L322.28,80.30 L322.69,80.30 L323.10,80.30 L323.50,80.30 L323.91,80.30 L324.32,80.30 L324.73,80.30 L325.14,80.30 L325.55,80.30 L325.96,80.30 L326.37,80.30 L326.77,80.30 L327.18,80.30 L327.59,80.30 L328.00,80.30 L328.0,80.3 L262.6,80.3 Z"/></clipPath>
<path d="M262.60,97.40 L263.01,97.40 L263.42,97.40 L263.83,97.40 L264.24,97.40 L264.64,97.40 L265.05,97.39 L265.46,97.39 L265.87,97.39 L266.28,97.38 L266.69,97.37 L267.10,97.35 L267.50,97.33 L267.91,97.29 L268.32,97.24 L268.73,97.18 L269.14,97.09 L269.55,96.95 L269.96,96.70 L270.37,96.59 L270.78,96.30 L271.18,95.89 L271.59,95.73 L272.00,94.90 L272.41,94.05 L272.82,92.89 L273.23,93.16 L273.64,91.62 L274.05,90.98 L274.45,87.11 L274.86,85.66 L275.27,85.71 L275.68,80.47 L276.09,78.13 L276.50,76.59 L276.91,74.08 L277.31,72.88 L277.72,70.68 L278.13,66.47 L278.54,65.55 L278.95,62.94 L279.36,60.88 L279.77,60.00 L280.18,57.47 L280.59,56.83 L280.99,55.30 L281.40,56.47 L281.81,56.48 L282.22,57.60 L282.63,57.99 L283.04,59.79 L283.45,61.71 L283.86,60.93 L284.26,62.61 L284.67,64.88 L285.08,67.16 L285.49,70.29 L285.90,72.44 L286.31,74.06 L286.72,76.48 L287.12,75.84 L287.53,78.44 L287.94,78.24 L288.35,80.75 L288.76,79.75 L289.17,80.75 L289.58,83.96 L289.99,83.67 L290.40,81.75 L290.80,83.47 L291.21,82.21 L291.62,84.53 L292.03,86.16 L292.44,85.09 L292.85,85.44 L293.26,87.95 L293.67,89.40 L294.07,89.39 L294.48,88.00 L294.89,89.20 L295.30,91.48 L295.71,91.61 L296.12,92.59 L296.53,93.44 L296.94,93.20 L297.34,95.03 L297.75,95.54 L298.16,96.29 L298.57,96.81 L298.98,96.98 L299.39,97.18 L299.80,97.28 L300.20,97.33 L300.61,97.36 L301.02,97.37 L301.43,97.38 L301.84,97.39 L302.25,97.39 L302.66,97.40 L303.07,97.40 L303.48,97.40 L303.88,97.40 L304.29,97.40 L304.70,97.40 L305.11,97.40 L305.52,97.40 L305.93,97.40 L306.34,97.40 L306.75,97.40 L307.15,97.40 L307.56,97.40 L307.97,97.40 L308.38,97.40 L308.79,97.40 L309.20,97.40 L309.61,97.40 L310.01,97.40 L310.42,97.40 L310.83,97.40 L311.24,97.40 L311.65,97.40 L312.06,97.40 L312.47,97.40 L312.88,97.40 L313.29,97.40 L313.69,97.40 L314.10,97.40 L314.51,97.40 L314.92,97.40 L315.33,97.40 L315.74,97.40 L316.15,97.40 L316.56,97.40 L316.96,97.40 L317.37,97.40 L317.78,97.40 L318.19,97.40 L318.60,97.40 L319.01,97.40 L319.42,97.40 L319.82,97.40 L320.23,97.40 L320.64,97.40 L321.05,97.40 L321.46,97.40 L321.87,97.40 L322.28,97.40 L322.69,97.40 L323.10,97.40 L323.50,97.40 L323.91,97.40 L324.32,97.40 L324.73,97.40 L325.14,97.40 L325.55,97.40 L325.96,97.40 L326.37,97.40 L326.77,97.40 L327.18,97.40 L327.59,97.40 L328.00,97.40 L328.0,97.4 L262.6,97.4 Z" fill="#b88a5a" fill-opacity="0.42" clip-path="url(#clip262o)"/>
<line x1="262.60" y1="80.60" x2="328.00" y2="80.60" stroke="#f8cc98" stroke-width="0.8"/>
<path d="M262.60,61.20 L262.90,61.20 L263.19,61.20 L263.49,61.20 L263.79,61.20 L264.09,61.20 L264.38,61.20 L264.68,61.20 L264.98,61.20 L265.28,61.20 L265.57,61.20 L265.87,61.20 L266.17,61.20 L266.46,61.20 L266.76,61.20 L267.06,61.20 L267.36,61.20 L267.65,61.20 L267.95,61.20 L268.25,61.20 L268.55,61.20 L268.84,61.20 L269.14,61.20 L269.44,61.20 L269.73,61.20 L270.03,61.20 L270.33,61.20 L270.63,61.20 L270.92,61.20 L271.22,61.20 L271.52,61.20 L271.82,61.20 L272.11,61.19 L272.41,61.18 L272.71,61.16 L273.00,61.11 L273.30,61.03 L273.60,60.88 L273.90,60.62 L274.19,60.20 L274.49,59.53 L274.79,58.53 L275.09,57.09 L275.38,55.12 L275.68,52.54 L275.98,49.36 L276.27,45.62 L276.57,41.50 L276.87,37.25 L277.17,33.20 L277.46,29.73 L277.76,27.19 L278.06,25.86 L278.36,25.79 L278.65,26.44 L278.95,27.70 L279.25,29.50 L279.54,31.75 L279.84,34.33 L280.14,37.13 L280.44,40.02 L280.73,42.91 L281.03,45.69 L281.33,48.28 L281.63,50.64 L281.92,52.72 L282.22,54.51 L282.52,56.02 L282.81,57.27 L283.11,58.26 L283.41,59.05 L283.71,59.65 L284.00,60.11 L284.30,60.44 L284.60,60.68 L284.90,60.85 L285.19,60.97 L285.49,61.05 L285.79,61.11 L286.08,61.14 L286.38,61.16 L286.68,61.18 L286.98,61.19 L287.27,61.19 L287.57,61.20 L287.87,61.20 L288.17,61.20 L288.46,61.20 L288.76,61.20 L289.06,61.20 L289.35,61.20 L289.65,61.20 L289.95,61.20 L290.25,61.20 L290.54,61.20 L290.84,61.20 L291.14,61.20 L291.44,61.20 L291.73,61.20 L292.03,61.20 L292.33,61.20 L292.62,61.20 L292.92,61.20 L293.22,61.20 L293.52,61.20 L293.81,61.20 L294.11,61.20 L294.41,61.20 L294.71,61.20 L295.00,61.20 L295.30,61.20 L295.60,61.20 L295.89,61.20 L296.19,61.20 L296.49,61.20 L296.79,61.20 L297.08,61.20 L297.38,61.20 L297.68,61.20 L297.98,61.20 L298.27,61.20 L298.57,61.20 L298.87,61.20 L299.16,61.20 L299.46,61.20 L299.76,61.20 L300.06,61.20 L300.35,61.20 L300.65,61.20 L300.95,61.20 L301.25,61.20 L301.54,61.20 L301.84,61.20 L302.14,61.20 L302.43,61.20 L302.73,61.20 L303.03,61.20 L303.33,61.20 L303.62,61.20 L303.92,61.20 L304.22,61.20 L304.52,61.20 L304.81,61.20 L305.11,61.20 L305.41,61.20 L305.70,61.20 L306.00,61.20 L306.30,61.20 L306.60,61.20 L306.89,61.20 L307.19,61.20 L307.49,61.20 L307.79,61.20 L308.08,61.20 L308.38,61.20 L308.68,61.20 L308.97,61.20 L309.27,61.20 L309.57,61.20 L309.87,61.20 L310.16,61.20 L310.46,61.20 L310.76,61.20 L311.06,61.20 L311.35,61.20 L311.65,61.20 L311.95,61.20 L312.24,61.20 L312.54,61.20 L312.84,61.20 L313.14,61.20 L313.43,61.20 L313.73,61.20 L314.03,61.20 L314.33,61.20 L314.62,61.20 L314.92,61.20 L315.22,61.20 L315.51,61.20 L315.81,61.20 L316.11,61.20 L316.41,61.20 L316.70,61.20 L317.00,61.20 L317.30,61.20 L317.60,61.20 L317.89,61.20 L318.19,61.20 L318.49,61.20 L318.78,61.20 L319.08,61.20 L319.38,61.20 L319.68,61.20 L319.97,61.20 L320.27,61.20 L320.57,61.20 L320.87,61.20 L321.16,61.20 L321.46,61.20 L321.76,61.20 L322.05,61.20 L322.35,61.20 L322.65,61.20 L322.95,61.20 L323.24,61.20 L323.54,61.20 L323.84,61.20 L324.14,61.20 L324.43,61.20 L324.73,61.20 L325.03,61.20 L325.32,61.20 L325.62,61.20 L325.92,61.20 L326.22,61.20 L326.51,61.20 L326.81,61.20 L327.11,61.20 L327.41,61.20 L327.70,61.20 L328.00,61.20" fill="none" stroke="#d9418a" stroke-width="0.8" stroke-dasharray="0.9 1.3" stroke-opacity="0.9"/>
</g>
<rect x="262.60" y="23.20" width="65.40" height="75.40" fill="none" stroke="#2b2b2b" stroke-width="1.1"/>
<line x1="264.60" y1="98.60" x2="264.60" y2="100.10" stroke="#333" stroke-width="0.7"/>
<line x1="267.05" y1="98.60" x2="267.05" y2="100.10" stroke="#333" stroke-width="0.7"/>
<line x1="269.50" y1="98.60" x2="269.50" y2="100.10" stroke="#333" stroke-width="0.7"/>
<line x1="271.95" y1="98.60" x2="271.95" y2="100.10" stroke="#333" stroke-width="0.7"/>
<line x1="274.40" y1="98.60" x2="274.40" y2="100.10" stroke="#333" stroke-width="0.7"/>
<line x1="276.85" y1="98.60" x2="276.85" y2="100.10" stroke="#333" stroke-width="0.7"/>
<line x1="279.30" y1="98.60" x2="279.30" y2="100.10" stroke="#333" stroke-width="0.7"/>
<line x1="281.75" y1="98.60" x2="281.75" y2="100.10" stroke="#333" stroke-width="0.7"/>
<line x1="284.20" y1="98.60" x2="284.20" y2="100.10" stroke="#333" stroke-width="0.7"/>
<line x1="286.65" y1="98.60" x2="286.65" y2="100.10" stroke="#333" stroke-width="0.7"/>
<line x1="289.10" y1="98.60" x2="289.10" y2="100.10" stroke="#333" stroke-width="0.7"/>
<line x1="291.55" y1="98.60" x2="291.55" y2="100.10" stroke="#333" stroke-width="0.7"/>
<line x1="294.00" y1="98.60" x2="294.00" y2="100.10" stroke="#333" stroke-width="0.7"/>
<line x1="296.45" y1="98.60" x2="296.45" y2="100.10" stroke="#333" stroke-width="0.7"/>
<line x1="298.90" y1="98.60" x2="298.90" y2="100.10" stroke="#333" stroke-width="0.7"/>
<line x1="301.35" y1="98.60" x2="301.35" y2="100.10" stroke="#333" stroke-width="0.7"/>
<line x1="303.80" y1="98.60" x2="303.80" y2="100.10" stroke="#333" stroke-width="0.7"/>
<line x1="306.25" y1="98.60" x2="306.25" y2="100.10" stroke="#333" stroke-width="0.7"/>
<line x1="308.70" y1="98.60" x2="308.70" y2="100.10" stroke="#333" stroke-width="0.7"/>
<line x1="311.15" y1="98.60" x2="311.15" y2="100.10" stroke="#333" stroke-width="0.7"/>
<line x1="313.60" y1="98.60" x2="313.60" y2="100.10" stroke="#333" stroke-width="0.7"/>
<line x1="316.05" y1="98.60" x2="316.05" y2="100.10" stroke="#333" stroke-width="0.7"/>
<line x1="318.50" y1="98.60" x2="318.50" y2="100.10" stroke="#333" stroke-width="0.7"/>
<line x1="320.95" y1="98.60" x2="320.95" y2="100.10" stroke="#333" stroke-width="0.7"/>
<line x1="323.40" y1="98.60" x2="323.40" y2="100.10" stroke="#333" stroke-width="0.7"/>
<line x1="325.85" y1="98.60" x2="325.85" y2="100.10" stroke="#333" stroke-width="0.7"/>
<line x1="277.20" y1="98.60" x2="277.20" y2="101.00" stroke="#111" stroke-width="0.9"/>
<line x1="278.40" y1="98.60" x2="278.40" y2="101.00" stroke="#111" stroke-width="0.9"/>
<line x1="279.60" y1="98.60" x2="279.60" y2="101.00" stroke="#111" stroke-width="0.9"/>
<line x1="280.80" y1="98.60" x2="280.80" y2="101.00" stroke="#111" stroke-width="0.9"/>
<line x1="297.70" y1="98.60" x2="297.70" y2="101.00" stroke="#111" stroke-width="0.9"/>
<line x1="319.50" y1="98.60" x2="319.50" y2="101.00" stroke="#111" stroke-width="0.9"/>
<text x="295.30" y="17.10" font-size="8.7" text-anchor="middle" fill="#111" stroke="#111" style="stroke-width:0.12px">SOD2</text>
<text x="279.40" y="110.20" font-size="6.2" text-anchor="middle" fill="#231f20" stroke="#231f20">0</text>
<text x="296.80" y="110.20" font-size="6.2" text-anchor="middle" fill="#231f20" stroke="#231f20">10</text>
<text x="300.40" y="107.90" font-size="4.2" fill="#231f20" stroke="#231f20">3</text>
<rect x="96.80" y="25.50" width="5.60" height="5.60" fill="#fff" stroke="#e0569a" stroke-width="0.8"/>
<rect x="96.80" y="36.60" width="5.60" height="5.60" fill="#f39a1e" stroke="#5a3a10" stroke-width="0.8"/>
<rect x="96.80" y="47.10" width="5.60" height="5.60" fill="#d2d2d4" stroke="#4a4a4a" stroke-width="0.8"/>
<text x="105.80" y="30.65" font-size="6.5" fill="#231f20" stroke="#231f20">FMO</text>
<text x="105.80" y="41.75" font-size="6.5" fill="#231f20" stroke="#231f20">Eomes <tspan fill="#bf2150" stroke="#bf2150">Hi</tspan> TCF-1 <tspan fill="#ad2a68" stroke="#ad2a68">Lo</tspan></text>
<text x="105.80" y="52.25" font-size="6.5" fill="#231f20" stroke="#231f20">Eomes <tspan fill="#bf2150" stroke="#bf2150">Int</tspan> TCF-1 <tspan fill="#ad2a68" stroke="#ad2a68">Hi</tspan></text>
<rect x="335.80" y="24.20" width="5.60" height="5.60" fill="#fff" stroke="#e0569a" stroke-width="0.8"/>
<rect x="335.80" y="35.50" width="5.60" height="5.60" fill="#f39a1e" stroke="#5a3a10" stroke-width="0.8"/>
<rect x="335.80" y="45.80" width="5.60" height="5.60" fill="#d2d2d4" stroke="#4a4a4a" stroke-width="0.8"/>
<text x="344.80" y="29.35" font-size="6.5" fill="#231f20" stroke="#231f20">FMO</text>
<text x="344.80" y="40.65" font-size="6.5" fill="#231f20" stroke="#231f20">Eomes <tspan fill="#bf2150" stroke="#bf2150">Hi</tspan> TCF-1 <tspan fill="#ad2a68" stroke="#ad2a68">Lo</tspan></text>
<text x="344.80" y="50.95" font-size="6.5" fill="#231f20" stroke="#231f20">Eomes <tspan fill="#bf2150" stroke="#bf2150">Int</tspan> TCF-1 <tspan fill="#ad2a68" stroke="#ad2a68">Hi</tspan></text>
<rect x="205.20" y="31.00" width="11.80" height="67.40" fill="#dcdce5"/>
<rect x="223.00" y="47.30" width="11.80" height="51.10" fill="#fcc98e"/>
<line x1="198.90" y1="27.80" x2="198.90" y2="98.40" stroke="#231f20" stroke-width="1.7"/>
<line x1="196.50" y1="98.40" x2="198.90" y2="98.40" stroke="#231f20" stroke-width="0.9"/>
<text x="192.80" y="100.70" font-size="6.5" text-anchor="end" fill="#2a2a2a" stroke="#2a2a2a">0.0</text>
<line x1="196.50" y1="84.92" x2="198.90" y2="84.92" stroke="#231f20" stroke-width="0.9"/>
<text x="192.80" y="87.22" font-size="6.5" text-anchor="end" fill="#2a2a2a" stroke="#2a2a2a">0.2</text>
<line x1="196.50" y1="71.44" x2="198.90" y2="71.44" stroke="#231f20" stroke-width="0.9"/>
<text x="192.80" y="73.74" font-size="6.5" text-anchor="end" fill="#2a2a2a" stroke="#2a2a2a">0.4</text>
<line x1="196.50" y1="57.96" x2="198.90" y2="57.96" stroke="#231f20" stroke-width="0.9"/>
<text x="192.80" y="60.26" font-size="6.5" text-anchor="end" fill="#2a2a2a" stroke="#2a2a2a">0.6</text>
<line x1="196.50" y1="44.48" x2="198.90" y2="44.48" stroke="#231f20" stroke-width="0.9"/>
<text x="192.80" y="46.78" font-size="6.5" text-anchor="end" fill="#2a2a2a" stroke="#2a2a2a">0.8</text>
<line x1="196.50" y1="31.00" x2="198.90" y2="31.00" stroke="#231f20" stroke-width="0.9"/>
<text x="192.80" y="33.30" font-size="6.5" text-anchor="end" fill="#2a2a2a" stroke="#2a2a2a">1.0</text>
<line x1="197.40" y1="98.40" x2="238.00" y2="98.40" stroke="#231f20" stroke-width="1.7"/>
<line x1="211.10" y1="98.40" x2="211.10" y2="101.00" stroke="#231f20" stroke-width="0.9"/>
<line x1="228.90" y1="98.40" x2="228.90" y2="101.00" stroke="#231f20" stroke-width="0.9"/>
<circle cx="206.80" cy="31.00" r="0.75" fill="#777" stroke="#444" stroke-width="0.4"/>
<circle cx="208.00" cy="31.00" r="0.75" fill="#777" stroke="#444" stroke-width="0.4"/>
<circle cx="209.20" cy="31.00" r="0.75" fill="#777" stroke="#444" stroke-width="0.4"/>
<circle cx="210.40" cy="31.00" r="0.75" fill="#777" stroke="#444" stroke-width="0.4"/>
<circle cx="211.60" cy="31.00" r="0.75" fill="#777" stroke="#444" stroke-width="0.4"/>
<circle cx="212.80" cy="31.00" r="0.75" fill="#777" stroke="#444" stroke-width="0.4"/>
<circle cx="214.00" cy="31.00" r="0.75" fill="#777" stroke="#444" stroke-width="0.4"/>
<circle cx="215.20" cy="31.00" r="0.75" fill="#777" stroke="#444" stroke-width="0.4"/>
<rect x="227.50" y="38.90" width="1.8" height="1.8" fill="#b0691c" stroke="#6a3a08" stroke-width="0.45"/>
<rect x="229.10" y="38.70" width="1.8" height="1.8" fill="#b0691c" stroke="#6a3a08" stroke-width="0.45"/>
<rect x="228.10" y="41.90" width="1.8" height="1.8" fill="#b0691c" stroke="#6a3a08" stroke-width="0.45"/>
<rect x="223.10" y="47.60" width="1.8" height="1.8" fill="#b0691c" stroke="#6a3a08" stroke-width="0.45"/>
<rect x="225.60" y="46.10" width="1.8" height="1.8" fill="#b0691c" stroke="#6a3a08" stroke-width="0.45"/>
<rect x="227.60" y="45.10" width="1.8" height="1.8" fill="#b0691c" stroke="#6a3a08" stroke-width="0.45"/>
<rect x="229.60" y="45.60" width="1.8" height="1.8" fill="#b0691c" stroke="#6a3a08" stroke-width="0.45"/>
<rect x="232.60" y="46.60" width="1.8" height="1.8" fill="#b0691c" stroke="#6a3a08" stroke-width="0.45"/>
<rect x="224.60" y="49.10" width="1.8" height="1.8" fill="#b0691c" stroke="#6a3a08" stroke-width="0.45"/>
<rect x="227.10" y="48.60" width="1.8" height="1.8" fill="#b0691c" stroke="#6a3a08" stroke-width="0.45"/>
<rect x="230.10" y="49.60" width="1.8" height="1.8" fill="#b0691c" stroke="#6a3a08" stroke-width="0.45"/>
<rect x="226.10" y="51.10" width="1.8" height="1.8" fill="#b0691c" stroke="#6a3a08" stroke-width="0.45"/>
<rect x="228.60" y="50.90" width="1.8" height="1.8" fill="#b0691c" stroke="#6a3a08" stroke-width="0.45"/>
<rect x="231.10" y="47.90" width="1.8" height="1.8" fill="#b0691c" stroke="#6a3a08" stroke-width="0.45"/>
<line x1="211.10" y1="25.50" x2="228.90" y2="25.50" stroke="#2a2a2a" stroke-width="0.8"/>
<rect x="215.67" y="21.75" width="1.3" height="1.3" fill="#2a2a2a"/>
<rect x="218.12" y="21.75" width="1.3" height="1.3" fill="#2a2a2a"/>
<rect x="220.57" y="21.75" width="1.3" height="1.3" fill="#2a2a2a"/>
<rect x="223.02" y="21.75" width="1.3" height="1.3" fill="#2a2a2a"/>
<text transform="translate(176.30,62.90) rotate(-90)" x="0" y="0" font-size="7.2" text-anchor="middle" font-weight="bold" fill="#2a2a2a" stroke="#2a2a2a" style="stroke:none" textLength="59.5" lengthAdjust="spacingAndGlyphs">PGC1α relative gMFI</text>
<rect x="443.30" y="31.00" width="11.80" height="67.40" fill="#dcdce5"/>
<rect x="461.30" y="34.00" width="11.80" height="64.40" fill="#fcc98e"/>
<line x1="437.10" y1="27.80" x2="437.10" y2="98.40" stroke="#231f20" stroke-width="1.7"/>
<line x1="434.70" y1="98.40" x2="437.10" y2="98.40" stroke="#231f20" stroke-width="0.9"/>
<text x="431.00" y="100.70" font-size="6.5" text-anchor="end" fill="#2a2a2a" stroke="#2a2a2a">0.0</text>
<line x1="434.70" y1="84.92" x2="437.10" y2="84.92" stroke="#231f20" stroke-width="0.9"/>
<text x="431.00" y="87.22" font-size="6.5" text-anchor="end" fill="#2a2a2a" stroke="#2a2a2a">0.2</text>
<line x1="434.70" y1="71.44" x2="437.10" y2="71.44" stroke="#231f20" stroke-width="0.9"/>
<text x="431.00" y="73.74" font-size="6.5" text-anchor="end" fill="#2a2a2a" stroke="#2a2a2a">0.4</text>
<line x1="434.70" y1="57.96" x2="437.10" y2="57.96" stroke="#231f20" stroke-width="0.9"/>
<text x="431.00" y="60.26" font-size="6.5" text-anchor="end" fill="#2a2a2a" stroke="#2a2a2a">0.6</text>
<line x1="434.70" y1="44.48" x2="437.10" y2="44.48" stroke="#231f20" stroke-width="0.9"/>
<text x="431.00" y="46.78" font-size="6.5" text-anchor="end" fill="#2a2a2a" stroke="#2a2a2a">0.8</text>
<line x1="434.70" y1="31.00" x2="437.10" y2="31.00" stroke="#231f20" stroke-width="0.9"/>
<text x="431.00" y="33.30" font-size="6.5" text-anchor="end" fill="#2a2a2a" stroke="#2a2a2a">1.0</text>
<line x1="435.60" y1="98.40" x2="476.30" y2="98.40" stroke="#231f20" stroke-width="1.7"/>
<line x1="449.20" y1="98.40" x2="449.20" y2="101.00" stroke="#231f20" stroke-width="0.9"/>
<line x1="467.20" y1="98.40" x2="467.20" y2="101.00" stroke="#231f20" stroke-width="0.9"/>
<circle cx="444.90" cy="31.00" r="0.75" fill="#777" stroke="#444" stroke-width="0.4"/>
<circle cx="446.10" cy="31.00" r="0.75" fill="#777" stroke="#444" stroke-width="0.4"/>
<circle cx="447.30" cy="31.00" r="0.75" fill="#777" stroke="#444" stroke-width="0.4"/>
<circle cx="448.50" cy="31.00" r="0.75" fill="#777" stroke="#444" stroke-width="0.4"/>
<circle cx="449.70" cy="31.00" r="0.75" fill="#777" stroke="#444" stroke-width="0.4"/>
<circle cx="450.90" cy="31.00" r="0.75" fill="#777" stroke="#444" stroke-width="0.4"/>
<circle cx="452.10" cy="31.00" r="0.75" fill="#777" stroke="#444" stroke-width="0.4"/>
<circle cx="453.30" cy="31.00" r="0.75" fill="#777" stroke="#444" stroke-width="0.4"/>
<rect x="460.90" y="31.10" width="1.8" height="1.8" fill="#b0691c" stroke="#6a3a08" stroke-width="0.45"/>
<rect x="464.40" y="32.70" width="1.8" height="1.8" fill="#b0691c" stroke="#6a3a08" stroke-width="0.45"/>
<rect x="468.30" y="31.30" width="1.8" height="1.8" fill="#b0691c" stroke="#6a3a08" stroke-width="0.45"/>
<rect x="471.50" y="31.50" width="1.8" height="1.8" fill="#b0691c" stroke="#6a3a08" stroke-width="0.45"/>
<rect x="460.90" y="35.90" width="1.8" height="1.8" fill="#b0691c" stroke="#6a3a08" stroke-width="0.45"/>
<rect x="464.40" y="36.10" width="1.8" height="1.8" fill="#b0691c" stroke="#6a3a08" stroke-width="0.45"/>
<rect x="468.30" y="36.30" width="1.8" height="1.8" fill="#b0691c" stroke="#6a3a08" stroke-width="0.45"/>
<rect x="471.50" y="36.00" width="1.8" height="1.8" fill="#b0691c" stroke="#6a3a08" stroke-width="0.45"/>
<rect x="460.90" y="37.70" width="1.8" height="1.8" fill="#b0691c" stroke="#6a3a08" stroke-width="0.45"/>
<rect x="464.40" y="37.90" width="1.8" height="1.8" fill="#b0691c" stroke="#6a3a08" stroke-width="0.45"/>
<rect x="468.30" y="37.60" width="1.8" height="1.8" fill="#b0691c" stroke="#6a3a08" stroke-width="0.45"/>
<rect x="471.50" y="37.70" width="1.8" height="1.8" fill="#b0691c" stroke="#6a3a08" stroke-width="0.45"/>
<rect x="471.50" y="33.70" width="1.8" height="1.8" fill="#b0691c" stroke="#6a3a08" stroke-width="0.45"/>
<line x1="449.20" y1="25.50" x2="467.20" y2="25.50" stroke="#2a2a2a" stroke-width="0.8"/>
<rect x="453.88" y="21.75" width="1.3" height="1.3" fill="#2a2a2a"/>
<rect x="456.32" y="21.75" width="1.3" height="1.3" fill="#2a2a2a"/>
<rect x="458.77" y="21.75" width="1.3" height="1.3" fill="#2a2a2a"/>
<rect x="461.23" y="21.75" width="1.3" height="1.3" fill="#2a2a2a"/>
<text transform="translate(415.20,62.90) rotate(-90)" x="0" y="0" font-size="7.2" text-anchor="middle" font-weight="bold" fill="#2a2a2a" stroke="#2a2a2a" style="stroke:none" textLength="54.5" lengthAdjust="spacingAndGlyphs">SOD2 relative gMFI</text>
<circle cx="189.40" cy="111.80" r="1.45" fill="#fff" stroke="#333" stroke-width="1.0"/>
<rect x="187.70" y="119.70" width="3.40" height="3.40" fill="#c8823a" stroke="#7a4a18" stroke-width="0.6"/>
<text x="195.40" y="114.15" font-size="6.5" fill="#231f20" stroke="#231f20">Eomes <tspan fill="#bf2150" stroke="#bf2150">Int</tspan> TCF-1 <tspan fill="#ad2a68" stroke="#ad2a68">Hi</tspan></text>
<text x="195.40" y="123.75" font-size="6.5" fill="#231f20" stroke="#231f20">Eomes <tspan fill="#bf2150" stroke="#bf2150">Hi</tspan> TCF-1 <tspan fill="#ad2a68" stroke="#ad2a68">Lo</tspan></text>
<circle cx="428.00" cy="112.00" r="1.45" fill="#fff" stroke="#333" stroke-width="1.0"/>
<rect x="426.30" y="119.70" width="3.40" height="3.40" fill="#c8823a" stroke="#7a4a18" stroke-width="0.6"/>
<text x="433.80" y="114.35" font-size="6.5" fill="#231f20" stroke="#231f20">Eomes <tspan fill="#bf2150" stroke="#bf2150">Int</tspan> TCF-1 <tspan fill="#ad2a68" stroke="#ad2a68">Hi</tspan></text>
<text x="433.80" y="123.75" font-size="6.5" fill="#231f20" stroke="#231f20">Eomes <tspan fill="#bf2150" stroke="#bf2150">Hi</tspan> TCF-1 <tspan fill="#ad2a68" stroke="#ad2a68">Lo</tspan></text>
<rect x="43.80" y="213.76" width="6.00" height="51.24" fill="#a9aed3"/>
<rect x="53.80" y="234.59" width="6.00" height="30.41" fill="#7b87c2"/>
<rect x="63.80" y="231.85" width="6.00" height="33.15" fill="#4b68ae"/>
<rect x="73.90" y="245.27" width="6.00" height="19.73" fill="#1b4b93"/>
<line x1="46.80" y1="208.83" x2="46.80" y2="213.76" stroke="#333" stroke-width="0.55"/>
<line x1="45.40" y1="208.83" x2="48.20" y2="208.83" stroke="#333" stroke-width="0.55"/>
<line x1="56.80" y1="231.02" x2="56.80" y2="234.59" stroke="#333" stroke-width="0.55"/>
<line x1="55.40" y1="231.02" x2="58.20" y2="231.02" stroke="#333" stroke-width="0.55"/>
<line x1="66.80" y1="227.46" x2="66.80" y2="231.85" stroke="#333" stroke-width="0.55"/>
<line x1="65.40" y1="227.46" x2="68.20" y2="227.46" stroke="#333" stroke-width="0.55"/>
<line x1="76.90" y1="239.52" x2="76.90" y2="245.27" stroke="#333" stroke-width="0.55"/>
<line x1="75.50" y1="239.52" x2="78.30" y2="239.52" stroke="#333" stroke-width="0.55"/>
<circle cx="46.80" cy="209.38" r="1.15" fill="#fff" stroke="#333" stroke-width="0.65"/>
<circle cx="46.80" cy="214.31" r="1.15" fill="#fff" stroke="#333" stroke-width="0.65"/>
<circle cx="46.80" cy="217.05" r="1.15" fill="#fff" stroke="#333" stroke-width="0.65"/>
<circle cx="55.30" cy="232.67" r="1.15" fill="#fff" stroke="#333" stroke-width="0.65"/>
<circle cx="58.00" cy="234.86" r="1.15" fill="#fff" stroke="#333" stroke-width="0.65"/>
<circle cx="56.80" cy="237.05" r="1.15" fill="#fff" stroke="#333" stroke-width="0.65"/>
<circle cx="65.30" cy="229.93" r="1.15" fill="#fff" stroke="#333" stroke-width="0.65"/>
<circle cx="68.30" cy="231.57" r="1.15" fill="#fff" stroke="#333" stroke-width="0.65"/>
<circle cx="66.80" cy="228.83" r="1.15" fill="#fff" stroke="#333" stroke-width="0.65"/>
<circle cx="67.30" cy="234.04" r="1.15" fill="#fff" stroke="#333" stroke-width="0.65"/>
<circle cx="76.90" cy="241.16" r="1.15" fill="#fff" stroke="#333" stroke-width="0.65"/>
<circle cx="76.90" cy="247.74" r="1.15" fill="#fff" stroke="#333" stroke-width="0.65"/>
<circle cx="77.40" cy="245.82" r="1.15" fill="#fff" stroke="#333" stroke-width="0.65"/>
<line x1="39.80" y1="194.00" x2="39.80" y2="265.00" stroke="#231f20" stroke-width="1.7"/>
<line x1="37.40" y1="265.00" x2="39.80" y2="265.00" stroke="#231f20" stroke-width="0.9"/>
<text x="33.60" y="267.30" font-size="6.6" text-anchor="end" fill="#2a2a2a" stroke="#2a2a2a">0.00</text>
<line x1="37.40" y1="251.30" x2="39.80" y2="251.30" stroke="#231f20" stroke-width="0.9"/>
<text x="33.60" y="253.60" font-size="6.6" text-anchor="end" fill="#2a2a2a" stroke="#2a2a2a">0.05</text>
<line x1="37.40" y1="237.60" x2="39.80" y2="237.60" stroke="#231f20" stroke-width="0.9"/>
<text x="33.60" y="239.90" font-size="6.6" text-anchor="end" fill="#2a2a2a" stroke="#2a2a2a">0.10</text>
<line x1="37.40" y1="223.90" x2="39.80" y2="223.90" stroke="#231f20" stroke-width="0.9"/>
<text x="33.60" y="226.20" font-size="6.6" text-anchor="end" fill="#2a2a2a" stroke="#2a2a2a">0.15</text>
<line x1="37.40" y1="210.20" x2="39.80" y2="210.20" stroke="#231f20" stroke-width="0.9"/>
<text x="33.60" y="212.50" font-size="6.6" text-anchor="end" fill="#2a2a2a" stroke="#2a2a2a">0.20</text>
<line x1="37.40" y1="196.50" x2="39.80" y2="196.50" stroke="#231f20" stroke-width="0.9"/>
<text x="33.60" y="198.80" font-size="6.6" text-anchor="end" fill="#2a2a2a" stroke="#2a2a2a">0.25</text>
<line x1="37.50" y1="265.00" x2="83.70" y2="265.00" stroke="#231f20" stroke-width="1.7"/>
<line x1="46.80" y1="265.00" x2="46.80" y2="267.60" stroke="#231f20" stroke-width="0.9"/>
<line x1="56.80" y1="265.00" x2="56.80" y2="267.60" stroke="#231f20" stroke-width="0.9"/>
<line x1="66.80" y1="265.00" x2="66.80" y2="267.60" stroke="#231f20" stroke-width="0.9"/>
<line x1="76.90" y1="265.00" x2="76.90" y2="267.60" stroke="#231f20" stroke-width="0.9"/>
<line x1="46.80" y1="170.50" x2="76.90" y2="170.50" stroke="#3a3a3a" stroke-width="0.7"/>
<rect x="58.75" y="166.15" width="1.3" height="1.3" fill="#2a2a2a"/>
<rect x="61.20" y="166.15" width="1.3" height="1.3" fill="#2a2a2a"/>
<rect x="63.65" y="166.15" width="1.3" height="1.3" fill="#2a2a2a"/>
<line x1="46.80" y1="179.50" x2="66.80" y2="179.50" stroke="#3a3a3a" stroke-width="0.7"/>
<rect x="54.92" y="175.15" width="1.3" height="1.3" fill="#2a2a2a"/>
<rect x="57.38" y="175.15" width="1.3" height="1.3" fill="#2a2a2a"/>
<line x1="56.80" y1="189.50" x2="76.90" y2="189.50" stroke="#3a3a3a" stroke-width="0.7"/>
<text x="66.85" y="186.90" font-size="6.3" text-anchor="middle" fill="#333" stroke="#333">ns</text>
<line x1="46.80" y1="197.50" x2="56.80" y2="197.50" stroke="#3a3a3a" stroke-width="0.7"/>
<rect x="49.92" y="193.15" width="1.3" height="1.3" fill="#2a2a2a"/>
<rect x="52.38" y="193.15" width="1.3" height="1.3" fill="#2a2a2a"/>
<line x1="56.80" y1="205.50" x2="66.80" y2="205.50" stroke="#3a3a3a" stroke-width="0.7"/>
<text x="61.80" y="202.90" font-size="6.3" text-anchor="middle" fill="#333" stroke="#333">ns</text>
<line x1="66.80" y1="213.50" x2="76.90" y2="213.50" stroke="#3a3a3a" stroke-width="0.7"/>
<rect x="71.20" y="209.15" width="1.3" height="1.3" fill="#2a2a2a"/>
<text transform="translate(14.30,228.20) rotate(-90)" x="0" y="0" font-size="7.2" text-anchor="middle" font-weight="bold" fill="#2a2a2a" stroke="#2a2a2a" style="stroke:none" textLength="65.2" lengthAdjust="spacingAndGlyphs">TMRM/MTG gMFI ratio</text>
<text transform="translate(50.40,274.00) rotate(-45)" font-size="6.6" text-anchor="end" fill="#231f20" stroke="#231f20">WT</text>
<text transform="translate(60.40,274.00) rotate(-45)" font-size="6.6" text-anchor="end" fill="#231f20" stroke="#231f20">Early</text>
<text transform="translate(70.40,274.00) rotate(-45)" font-size="6.6" text-anchor="end" fill="#231f20" stroke="#231f20">Interm.</text>
<text transform="translate(80.50,274.00) rotate(-45)" font-size="6.6" text-anchor="end" fill="#231f20" stroke="#231f20">Late</text>
<text x="62.10" y="149.40" font-size="8.7" text-anchor="middle" fill="#111" stroke="#111" style="stroke-width:0.2px">Mitochondrial</text>
<text x="62.10" y="159.60" font-size="8.7" text-anchor="middle" fill="#111" stroke="#111" style="stroke-width:0.2px">potential/mass ratio</text>
<rect x="130.10" y="219.44" width="6.00" height="45.76" fill="#a9aed3"/>
<rect x="141.00" y="218.07" width="6.00" height="47.13" fill="#7b87c2"/>
<rect x="151.80" y="208.51" width="6.00" height="56.69" fill="#4b68ae"/>
<rect x="162.70" y="202.71" width="6.00" height="62.49" fill="#1b4b93"/>
<line x1="133.10" y1="216.71" x2="133.10" y2="219.44" stroke="#333" stroke-width="0.55"/>
<line x1="131.70" y1="216.71" x2="134.50" y2="216.71" stroke="#333" stroke-width="0.55"/>
<line x1="144.00" y1="214.66" x2="144.00" y2="218.07" stroke="#333" stroke-width="0.55"/>
<line x1="142.60" y1="214.66" x2="145.40" y2="214.66" stroke="#333" stroke-width="0.55"/>
<line x1="154.80" y1="206.12" x2="154.80" y2="208.51" stroke="#333" stroke-width="0.55"/>
<line x1="153.40" y1="206.12" x2="156.20" y2="206.12" stroke="#333" stroke-width="0.55"/>
<line x1="165.70" y1="201.00" x2="165.70" y2="202.71" stroke="#333" stroke-width="0.55"/>
<line x1="164.30" y1="201.00" x2="167.10" y2="201.00" stroke="#333" stroke-width="0.55"/>
<circle cx="131.60" cy="217.39" r="1.15" fill="#fff" stroke="#333" stroke-width="0.65"/>
<circle cx="134.60" cy="221.15" r="1.15" fill="#fff" stroke="#333" stroke-width="0.65"/>
<circle cx="133.10" cy="219.10" r="1.15" fill="#fff" stroke="#333" stroke-width="0.65"/>
<circle cx="134.10" cy="218.07" r="1.15" fill="#fff" stroke="#333" stroke-width="0.65"/>
<circle cx="144.00" cy="215.68" r="1.15" fill="#fff" stroke="#333" stroke-width="0.65"/>
<circle cx="142.80" cy="219.78" r="1.15" fill="#fff" stroke="#333" stroke-width="0.65"/>
<circle cx="145.20" cy="218.07" r="1.15" fill="#fff" stroke="#333" stroke-width="0.65"/>
<circle cx="153.30" cy="206.46" r="1.15" fill="#fff" stroke="#333" stroke-width="0.65"/>
<circle cx="156.30" cy="207.15" r="1.15" fill="#fff" stroke="#333" stroke-width="0.65"/>
<circle cx="154.80" cy="209.88" r="1.15" fill="#fff" stroke="#333" stroke-width="0.65"/>
<circle cx="155.30" cy="208.51" r="1.15" fill="#fff" stroke="#333" stroke-width="0.65"/>
<circle cx="164.70" cy="201.00" r="1.15" fill="#fff" stroke="#333" stroke-width="0.65"/>
<circle cx="166.90" cy="202.36" r="1.15" fill="#fff" stroke="#333" stroke-width="0.65"/>
<circle cx="165.70" cy="203.73" r="1.15" fill="#fff" stroke="#333" stroke-width="0.65"/>
<line x1="125.50" y1="194.40" x2="125.50" y2="265.20" stroke="#231f20" stroke-width="1.7"/>
<line x1="123.10" y1="265.20" x2="125.50" y2="265.20" stroke="#231f20" stroke-width="0.9"/>
<text x="119.00" y="267.50" font-size="6.6" text-anchor="end" fill="#2a2a2a" stroke="#2a2a2a">0</text>
<line x1="123.10" y1="248.12" x2="125.50" y2="248.12" stroke="#231f20" stroke-width="0.9"/>
<text x="119.00" y="250.43" font-size="6.6" text-anchor="end" fill="#2a2a2a" stroke="#2a2a2a">500</text>
<line x1="123.10" y1="231.05" x2="125.50" y2="231.05" stroke="#231f20" stroke-width="0.9"/>
<text x="119.00" y="233.35" font-size="6.6" text-anchor="end" fill="#2a2a2a" stroke="#2a2a2a">1000</text>
<line x1="123.10" y1="213.97" x2="125.50" y2="213.97" stroke="#231f20" stroke-width="0.9"/>
<text x="119.00" y="216.28" font-size="6.6" text-anchor="end" fill="#2a2a2a" stroke="#2a2a2a">1500</text>
<line x1="123.10" y1="196.90" x2="125.50" y2="196.90" stroke="#231f20" stroke-width="0.9"/>
<text x="119.00" y="199.20" font-size="6.6" text-anchor="end" fill="#2a2a2a" stroke="#2a2a2a">2000</text>
<line x1="123.50" y1="265.20" x2="173.00" y2="265.20" stroke="#231f20" stroke-width="1.7"/>
<line x1="133.10" y1="265.20" x2="133.10" y2="267.80" stroke="#231f20" stroke-width="0.9"/>
<line x1="144.00" y1="265.20" x2="144.00" y2="267.80" stroke="#231f20" stroke-width="0.9"/>
<line x1="154.80" y1="265.20" x2="154.80" y2="267.80" stroke="#231f20" stroke-width="0.9"/>
<line x1="165.70" y1="265.20" x2="165.70" y2="267.80" stroke="#231f20" stroke-width="0.9"/>
<line x1="133.10" y1="171.50" x2="165.70" y2="171.50" stroke="#3a3a3a" stroke-width="0.7"/>
<rect x="146.30" y="167.15" width="1.3" height="1.3" fill="#2a2a2a"/>
<rect x="148.75" y="167.15" width="1.3" height="1.3" fill="#2a2a2a"/>
<rect x="151.20" y="167.15" width="1.3" height="1.3" fill="#2a2a2a"/>
<line x1="144.00" y1="180.50" x2="165.70" y2="180.50" stroke="#3a3a3a" stroke-width="0.7"/>
<rect x="152.97" y="176.15" width="1.3" height="1.3" fill="#2a2a2a"/>
<rect x="155.42" y="176.15" width="1.3" height="1.3" fill="#2a2a2a"/>
<line x1="133.10" y1="188.50" x2="154.80" y2="188.50" stroke="#3a3a3a" stroke-width="0.7"/>
<rect x="143.30" y="184.15" width="1.3" height="1.3" fill="#2a2a2a"/>
<line x1="154.80" y1="193.50" x2="165.70" y2="193.50" stroke="#3a3a3a" stroke-width="0.7"/>
<text x="160.25" y="190.90" font-size="6.3" text-anchor="middle" fill="#333" stroke="#333">ns</text>
<line x1="144.00" y1="197.50" x2="154.80" y2="197.50" stroke="#3a3a3a" stroke-width="0.7"/>
<rect x="148.75" y="193.15" width="1.3" height="1.3" fill="#2a2a2a"/>
<line x1="133.10" y1="204.50" x2="144.00" y2="204.50" stroke="#3a3a3a" stroke-width="0.7"/>
<text x="138.55" y="201.90" font-size="6.3" text-anchor="middle" fill="#333" stroke="#333">ns</text>
<text transform="translate(97.50,226.40) rotate(-90)" x="0" y="0" font-size="7.2" text-anchor="middle" font-weight="bold" fill="#2a2a2a" stroke="#2a2a2a" style="stroke:none" textLength="43.3" lengthAdjust="spacingAndGlyphs">Mitosox gMFI</text>
<text transform="translate(136.70,274.20) rotate(-45)" font-size="6.6" text-anchor="end" fill="#231f20" stroke="#231f20">WT</text>
<text transform="translate(147.60,274.20) rotate(-45)" font-size="6.6" text-anchor="end" fill="#231f20" stroke="#231f20">Early</text>
<text transform="translate(158.40,274.20) rotate(-45)" font-size="6.6" text-anchor="end" fill="#231f20" stroke="#231f20">Interm.</text>
<text transform="translate(169.30,274.20) rotate(-45)" font-size="6.6" text-anchor="end" fill="#231f20" stroke="#231f20">Late</text>
<text x="149.20" y="149.40" font-size="8.7" text-anchor="middle" fill="#111" stroke="#111" style="stroke-width:0.2px">Mitochondrial</text>
<text x="149.20" y="159.60" font-size="8.7" text-anchor="middle" fill="#111" stroke="#111" style="stroke-width:0.2px">ROS</text>
<rect x="218.90" y="208.84" width="6.00" height="55.66" fill="#a9aed3"/>
<rect x="229.40" y="219.43" width="6.00" height="45.07" fill="#7b87c2"/>
<rect x="240.00" y="223.49" width="6.00" height="41.01" fill="#4b68ae"/>
<rect x="250.40" y="236.33" width="6.00" height="28.17" fill="#1b4b93"/>
<line x1="221.90" y1="205.91" x2="221.90" y2="208.84" stroke="#333" stroke-width="0.55"/>
<line x1="220.50" y1="205.91" x2="223.30" y2="205.91" stroke="#333" stroke-width="0.55"/>
<line x1="232.40" y1="215.83" x2="232.40" y2="219.43" stroke="#333" stroke-width="0.55"/>
<line x1="231.00" y1="215.83" x2="233.80" y2="215.83" stroke="#333" stroke-width="0.55"/>
<line x1="243.00" y1="222.14" x2="243.00" y2="223.49" stroke="#333" stroke-width="0.55"/>
<line x1="241.60" y1="222.14" x2="244.40" y2="222.14" stroke="#333" stroke-width="0.55"/>
<line x1="253.40" y1="232.05" x2="253.40" y2="236.33" stroke="#333" stroke-width="0.55"/>
<line x1="252.00" y1="232.05" x2="254.80" y2="232.05" stroke="#333" stroke-width="0.55"/>
<circle cx="220.40" cy="208.17" r="1.15" fill="#fff" stroke="#333" stroke-width="0.65"/>
<circle cx="223.40" cy="209.07" r="1.15" fill="#fff" stroke="#333" stroke-width="0.65"/>
<circle cx="221.90" cy="206.36" r="1.15" fill="#fff" stroke="#333" stroke-width="0.65"/>
<circle cx="223.20" cy="210.42" r="1.15" fill="#fff" stroke="#333" stroke-width="0.65"/>
<circle cx="232.40" cy="216.73" r="1.15" fill="#fff" stroke="#333" stroke-width="0.65"/>
<circle cx="231.20" cy="219.88" r="1.15" fill="#fff" stroke="#333" stroke-width="0.65"/>
<circle cx="233.80" cy="219.43" r="1.15" fill="#fff" stroke="#333" stroke-width="0.65"/>
<circle cx="241.50" cy="222.14" r="1.15" fill="#fff" stroke="#333" stroke-width="0.65"/>
<circle cx="244.50" cy="222.81" r="1.15" fill="#fff" stroke="#333" stroke-width="0.65"/>
<circle cx="243.00" cy="221.91" r="1.15" fill="#fff" stroke="#333" stroke-width="0.65"/>
<circle cx="253.40" cy="232.95" r="1.15" fill="#fff" stroke="#333" stroke-width="0.65"/>
<circle cx="253.90" cy="237.01" r="1.15" fill="#fff" stroke="#333" stroke-width="0.65"/>
<circle cx="251.90" cy="235.66" r="1.15" fill="#fff" stroke="#333" stroke-width="0.65"/>
<line x1="215.10" y1="194.40" x2="215.10" y2="264.50" stroke="#231f20" stroke-width="1.7"/>
<line x1="212.70" y1="264.50" x2="215.10" y2="264.50" stroke="#231f20" stroke-width="0.9"/>
<text x="208.90" y="266.80" font-size="6.6" text-anchor="end" fill="#2a2a2a" stroke="#2a2a2a">0</text>
<line x1="212.70" y1="241.97" x2="215.10" y2="241.97" stroke="#231f20" stroke-width="0.9"/>
<text x="208.90" y="244.27" font-size="6.6" text-anchor="end" fill="#2a2a2a" stroke="#2a2a2a">500</text>
<line x1="212.70" y1="219.43" x2="215.10" y2="219.43" stroke="#231f20" stroke-width="0.9"/>
<text x="208.90" y="221.73" font-size="6.6" text-anchor="end" fill="#2a2a2a" stroke="#2a2a2a">1000</text>
<line x1="212.70" y1="196.90" x2="215.10" y2="196.90" stroke="#231f20" stroke-width="0.9"/>
<text x="208.90" y="199.20" font-size="6.6" text-anchor="end" fill="#2a2a2a" stroke="#2a2a2a">1500</text>
<line x1="211.70" y1="264.50" x2="262.30" y2="264.50" stroke="#231f20" stroke-width="1.7"/>
<line x1="221.90" y1="264.50" x2="221.90" y2="267.10" stroke="#231f20" stroke-width="0.9"/>
<line x1="232.40" y1="264.50" x2="232.40" y2="267.10" stroke="#231f20" stroke-width="0.9"/>
<line x1="243.00" y1="264.50" x2="243.00" y2="267.10" stroke="#231f20" stroke-width="0.9"/>
<line x1="253.40" y1="264.50" x2="253.40" y2="267.10" stroke="#231f20" stroke-width="0.9"/>
<line x1="221.90" y1="171.50" x2="253.40" y2="171.50" stroke="#3a3a3a" stroke-width="0.7"/>
<rect x="233.32" y="167.15" width="1.3" height="1.3" fill="#2a2a2a"/>
<rect x="235.77" y="167.15" width="1.3" height="1.3" fill="#2a2a2a"/>
<rect x="238.22" y="167.15" width="1.3" height="1.3" fill="#2a2a2a"/>
<rect x="240.67" y="167.15" width="1.3" height="1.3" fill="#2a2a2a"/>
<line x1="221.90" y1="179.50" x2="243.00" y2="179.50" stroke="#3a3a3a" stroke-width="0.7"/>
<rect x="229.35" y="175.15" width="1.3" height="1.3" fill="#2a2a2a"/>
<rect x="231.80" y="175.15" width="1.3" height="1.3" fill="#2a2a2a"/>
<rect x="234.25" y="175.15" width="1.3" height="1.3" fill="#2a2a2a"/>
<line x1="232.40" y1="188.50" x2="253.40" y2="188.50" stroke="#3a3a3a" stroke-width="0.7"/>
<rect x="239.80" y="184.15" width="1.3" height="1.3" fill="#2a2a2a"/>
<rect x="242.25" y="184.15" width="1.3" height="1.3" fill="#2a2a2a"/>
<rect x="244.70" y="184.15" width="1.3" height="1.3" fill="#2a2a2a"/>
<line x1="221.90" y1="192.50" x2="232.40" y2="192.50" stroke="#3a3a3a" stroke-width="0.7"/>
<rect x="225.28" y="188.15" width="1.3" height="1.3" fill="#2a2a2a"/>
<rect x="227.72" y="188.15" width="1.3" height="1.3" fill="#2a2a2a"/>
<line x1="243.00" y1="197.50" x2="253.40" y2="197.50" stroke="#3a3a3a" stroke-width="0.7"/>
<rect x="246.32" y="193.15" width="1.3" height="1.3" fill="#2a2a2a"/>
<rect x="248.77" y="193.15" width="1.3" height="1.3" fill="#2a2a2a"/>
<line x1="232.40" y1="204.50" x2="243.00" y2="204.50" stroke="#3a3a3a" stroke-width="0.7"/>
<text x="237.70" y="201.90" font-size="6.3" text-anchor="middle" fill="#333" stroke="#333">ns</text>
<text transform="translate(187.10,224.10) rotate(-90)" x="0" y="0" font-size="7.2" text-anchor="middle" font-weight="bold" fill="#2a2a2a" stroke="#2a2a2a" style="stroke:none" textLength="43.0" lengthAdjust="spacingAndGlyphs">2-NBDG gMFI</text>
<text transform="translate(225.50,273.50) rotate(-45)" font-size="6.6" text-anchor="end" fill="#231f20" stroke="#231f20">WT</text>
<text transform="translate(236.00,273.50) rotate(-45)" font-size="6.6" text-anchor="end" fill="#231f20" stroke="#231f20">Early</text>
<text transform="translate(246.60,273.50) rotate(-45)" font-size="6.6" text-anchor="end" fill="#231f20" stroke="#231f20">Interm.</text>
<text transform="translate(257.00,273.50) rotate(-45)" font-size="6.6" text-anchor="end" fill="#231f20" stroke="#231f20">Late</text>
<text x="238.90" y="149.40" font-size="8.7" text-anchor="middle" fill="#111" stroke="#111" style="stroke-width:0.2px">Glucose</text>
<text x="238.90" y="159.60" font-size="8.7" text-anchor="middle" fill="#111" stroke="#111" style="stroke-width:0.2px">uptake</text>
<rect x="310.45" y="218.01" width="5.30" height="46.99" fill="#e3e3e7"/>
<rect x="320.05" y="215.63" width="5.30" height="49.37" fill="#a8cdef"/>
<rect x="329.75" y="236.40" width="5.30" height="28.60" fill="#e98a80"/>
<rect x="339.05" y="251.38" width="5.30" height="13.62" fill="#efc797"/>
<line x1="313.10" y1="213.24" x2="313.10" y2="218.01" stroke="#333" stroke-width="0.55"/>
<line x1="311.70" y1="213.24" x2="314.50" y2="213.24" stroke="#333" stroke-width="0.55"/>
<line x1="322.70" y1="213.24" x2="322.70" y2="215.63" stroke="#333" stroke-width="0.55"/>
<line x1="321.30" y1="213.24" x2="324.10" y2="213.24" stroke="#333" stroke-width="0.55"/>
<line x1="332.40" y1="230.27" x2="332.40" y2="236.40" stroke="#333" stroke-width="0.55"/>
<line x1="331.00" y1="230.27" x2="333.80" y2="230.27" stroke="#333" stroke-width="0.55"/>
<line x1="341.70" y1="249.00" x2="341.70" y2="251.38" stroke="#333" stroke-width="0.55"/>
<line x1="340.30" y1="249.00" x2="343.10" y2="249.00" stroke="#333" stroke-width="0.55"/>
<circle cx="312.10" cy="213.58" r="1.2" fill="#fff" stroke="#1a1a1a" stroke-width="0.75"/>
<circle cx="314.10" cy="213.58" r="1.2" fill="#fff" stroke="#1a1a1a" stroke-width="0.75"/>
<circle cx="313.10" cy="220.74" r="1.2" fill="#fff" stroke="#1a1a1a" stroke-width="0.75"/>
<circle cx="313.10" cy="225.84" r="1.2" fill="#fff" stroke="#1a1a1a" stroke-width="0.75"/>
<circle cx="313.10" cy="230.27" r="1.2" fill="#fff" stroke="#1a1a1a" stroke-width="0.75"/>
<rect x="320.50" y="212.73" width="2.4" height="2.4" fill="#4a94c6" stroke="#134a70" stroke-width="0.7"/>
<rect x="322.50" y="213.75" width="2.4" height="2.4" fill="#4a94c6" stroke="#134a70" stroke-width="0.7"/>
<rect x="321.50" y="215.11" width="2.4" height="2.4" fill="#4a94c6" stroke="#134a70" stroke-width="0.7"/>
<rect x="322.70" y="215.79" width="2.4" height="2.4" fill="#4a94c6" stroke="#134a70" stroke-width="0.7"/>
<path d="M332.40,228.99 L333.88,231.82 L330.91,231.82 Z" fill="#4a0c12"/>
<path d="M331.40,231.03 L332.88,233.87 L329.91,233.87 Z" fill="#4a0c12"/>
<path d="M333.40,232.05 L334.88,234.89 L331.91,234.89 Z" fill="#4a0c12"/>
<path d="M332.40,233.76 L333.88,236.59 L330.91,236.59 Z" fill="#4a0c12"/>
<path d="M331.60,234.44 L333.08,237.27 L330.11,237.27 Z" fill="#4a0c12"/>
<path d="M341.70,247.84 L343.20,249.34 L341.70,250.84 L340.20,249.34 Z" fill="#4a3010"/>
<path d="M340.70,249.88 L342.20,251.38 L340.70,252.88 L339.20,251.38 Z" fill="#4a3010"/>
<path d="M342.70,250.90 L344.20,252.40 L342.70,253.90 L341.20,252.40 Z" fill="#4a3010"/>
<path d="M341.70,253.28 L343.20,254.78 L341.70,256.28 L340.20,254.78 Z" fill="#4a3010"/>
<line x1="307.50" y1="194.40" x2="307.50" y2="265.00" stroke="#231f20" stroke-width="1.7"/>
<line x1="305.10" y1="265.00" x2="307.50" y2="265.00" stroke="#231f20" stroke-width="0.9"/>
<text x="300.80" y="267.30" font-size="6.6" text-anchor="end" fill="#2a2a2a" stroke="#2a2a2a">0.0</text>
<line x1="305.10" y1="247.97" x2="307.50" y2="247.97" stroke="#231f20" stroke-width="0.9"/>
<text x="300.80" y="250.28" font-size="6.6" text-anchor="end" fill="#2a2a2a" stroke="#2a2a2a">0.5</text>
<line x1="305.10" y1="230.95" x2="307.50" y2="230.95" stroke="#231f20" stroke-width="0.9"/>
<text x="300.80" y="233.25" font-size="6.6" text-anchor="end" fill="#2a2a2a" stroke="#2a2a2a">1.0</text>
<line x1="305.10" y1="213.93" x2="307.50" y2="213.93" stroke="#231f20" stroke-width="0.9"/>
<text x="300.80" y="216.23" font-size="6.6" text-anchor="end" fill="#2a2a2a" stroke="#2a2a2a">1.5</text>
<line x1="305.10" y1="196.90" x2="307.50" y2="196.90" stroke="#231f20" stroke-width="0.9"/>
<text x="300.80" y="199.20" font-size="6.6" text-anchor="end" fill="#2a2a2a" stroke="#2a2a2a">2.0</text>
<line x1="305.50" y1="265.00" x2="347.70" y2="265.00" stroke="#231f20" stroke-width="1.7"/>
<line x1="313.10" y1="171.50" x2="341.70" y2="171.50" stroke="#3a3a3a" stroke-width="0.7"/>
<rect x="323.07" y="167.15" width="1.3" height="1.3" fill="#2a2a2a"/>
<rect x="325.52" y="167.15" width="1.3" height="1.3" fill="#2a2a2a"/>
<rect x="327.97" y="167.15" width="1.3" height="1.3" fill="#2a2a2a"/>
<rect x="330.43" y="167.15" width="1.3" height="1.3" fill="#2a2a2a"/>
<line x1="322.70" y1="180.50" x2="341.70" y2="180.50" stroke="#3a3a3a" stroke-width="0.7"/>
<rect x="327.88" y="176.15" width="1.3" height="1.3" fill="#2a2a2a"/>
<rect x="330.32" y="176.15" width="1.3" height="1.3" fill="#2a2a2a"/>
<rect x="332.77" y="176.15" width="1.3" height="1.3" fill="#2a2a2a"/>
<rect x="335.23" y="176.15" width="1.3" height="1.3" fill="#2a2a2a"/>
<line x1="313.10" y1="188.50" x2="332.40" y2="188.50" stroke="#3a3a3a" stroke-width="0.7"/>
<rect x="320.88" y="184.15" width="1.3" height="1.3" fill="#2a2a2a"/>
<rect x="323.32" y="184.15" width="1.3" height="1.3" fill="#2a2a2a"/>
<line x1="332.40" y1="192.50" x2="341.70" y2="192.50" stroke="#3a3a3a" stroke-width="0.7"/>
<rect x="333.95" y="188.15" width="1.3" height="1.3" fill="#2a2a2a"/>
<rect x="336.40" y="188.15" width="1.3" height="1.3" fill="#2a2a2a"/>
<rect x="338.85" y="188.15" width="1.3" height="1.3" fill="#2a2a2a"/>
<line x1="322.70" y1="197.50" x2="332.40" y2="197.50" stroke="#3a3a3a" stroke-width="0.7"/>
<rect x="324.45" y="193.15" width="1.3" height="1.3" fill="#2a2a2a"/>
<rect x="326.90" y="193.15" width="1.3" height="1.3" fill="#2a2a2a"/>
<rect x="329.35" y="193.15" width="1.3" height="1.3" fill="#2a2a2a"/>
<line x1="313.10" y1="204.50" x2="322.70" y2="204.50" stroke="#3a3a3a" stroke-width="0.7"/>
<text x="317.90" y="201.90" font-size="6.3" text-anchor="middle" fill="#333" stroke="#333">ns</text>
<text transform="translate(288.00,228.50) rotate(-90)" x="0" y="0" font-size="7.2" text-anchor="middle" font-weight="bold" fill="#2a2a2a" stroke="#2a2a2a" style="stroke:none" textLength="65.8" lengthAdjust="spacingAndGlyphs">TMRM/MTG gMFI ratio</text>
<line x1="313.10" y1="230.27" x2="313.10" y2="213.58" stroke="#333" stroke-width="0.5"/>
<circle cx="313.10" cy="213.58" r="1.2" fill="#fff" stroke="#1a1a1a" stroke-width="0.75"/>
<circle cx="313.10" cy="220.74" r="1.2" fill="#fff" stroke="#1a1a1a" stroke-width="0.75"/>
<circle cx="313.10" cy="225.84" r="1.2" fill="#fff" stroke="#1a1a1a" stroke-width="0.75"/>
<circle cx="313.10" cy="230.27" r="1.2" fill="#fff" stroke="#1a1a1a" stroke-width="0.75"/>
<circle cx="311.80" cy="213.58" r="1.2" fill="#fff" stroke="#1a1a1a" stroke-width="0.75"/>
<circle cx="314.40" cy="213.58" r="1.2" fill="#fff" stroke="#1a1a1a" stroke-width="0.75"/>
<rect x="393.80" y="262.22" width="5.60" height="2.38" fill="#e3e3e7"/>
<rect x="403.30" y="254.42" width="5.60" height="10.19" fill="#a8cdef"/>
<rect x="412.90" y="245.59" width="5.60" height="19.01" fill="#e98a80"/>
<rect x="422.70" y="211.30" width="5.60" height="53.30" fill="#efc797"/>
<line x1="396.60" y1="260.87" x2="396.60" y2="262.22" stroke="#333" stroke-width="0.55"/>
<line x1="395.20" y1="260.87" x2="398.00" y2="260.87" stroke="#333" stroke-width="0.55"/>
<line x1="406.10" y1="253.06" x2="406.10" y2="254.42" stroke="#333" stroke-width="0.55"/>
<line x1="404.70" y1="253.06" x2="407.50" y2="253.06" stroke="#333" stroke-width="0.55"/>
<line x1="415.70" y1="241.51" x2="415.70" y2="245.59" stroke="#333" stroke-width="0.55"/>
<line x1="414.30" y1="241.51" x2="417.10" y2="241.51" stroke="#333" stroke-width="0.55"/>
<line x1="425.50" y1="202.47" x2="425.50" y2="211.30" stroke="#333" stroke-width="0.55"/>
<line x1="424.10" y1="202.47" x2="426.90" y2="202.47" stroke="#333" stroke-width="0.55"/>
<circle cx="395.60" cy="261.21" r="1.2" fill="#fff" stroke="#1a1a1a" stroke-width="0.75"/>
<circle cx="397.60" cy="261.37" r="1.2" fill="#fff" stroke="#1a1a1a" stroke-width="0.75"/>
<circle cx="396.60" cy="262.56" r="1.2" fill="#fff" stroke="#1a1a1a" stroke-width="0.75"/>
<circle cx="397.60" cy="263.24" r="1.2" fill="#fff" stroke="#1a1a1a" stroke-width="0.75"/>
<circle cx="395.60" cy="263.07" r="1.2" fill="#fff" stroke="#1a1a1a" stroke-width="0.75"/>
<rect x="403.90" y="252.54" width="2.4" height="2.4" fill="#4a94c6" stroke="#134a70" stroke-width="0.7"/>
<rect x="405.90" y="252.54" width="2.4" height="2.4" fill="#4a94c6" stroke="#134a70" stroke-width="0.7"/>
<rect x="404.90" y="253.89" width="2.4" height="2.4" fill="#4a94c6" stroke="#134a70" stroke-width="0.7"/>
<rect x="403.90" y="255.59" width="2.4" height="2.4" fill="#4a94c6" stroke="#134a70" stroke-width="0.7"/>
<rect x="405.90" y="256.61" width="2.4" height="2.4" fill="#4a94c6" stroke="#134a70" stroke-width="0.7"/>
<rect x="404.90" y="258.31" width="2.4" height="2.4" fill="#4a94c6" stroke="#134a70" stroke-width="0.7"/>
<path d="M415.70,239.89 L417.19,242.73 L414.21,242.73 Z" fill="#4a0c12"/>
<path d="M414.70,241.25 L416.19,244.09 L413.21,244.09 Z" fill="#4a0c12"/>
<path d="M416.70,241.93 L418.19,244.77 L415.21,244.77 Z" fill="#4a0c12"/>
<path d="M415.70,242.95 L417.19,245.78 L414.21,245.78 Z" fill="#4a0c12"/>
<path d="M414.70,243.29 L416.19,246.12 L413.21,246.12 Z" fill="#4a0c12"/>
<path d="M425.50,201.65 L427.00,203.15 L425.50,204.65 L424.00,203.15 Z" fill="#4a3010"/>
<path d="M424.50,203.35 L426.00,204.85 L424.50,206.35 L423.00,204.85 Z" fill="#4a3010"/>
<path d="M426.50,202.67 L428.00,204.17 L426.50,205.67 L425.00,204.17 Z" fill="#4a3010"/>
<path d="M425.50,210.14 L427.00,211.64 L425.50,213.14 L424.00,211.64 Z" fill="#4a3010"/>
<path d="M425.50,214.89 L427.00,216.39 L425.50,217.89 L424.00,216.39 Z" fill="#4a3010"/>
<path d="M425.80,217.95 L427.30,219.45 L425.80,220.95 L424.30,219.45 Z" fill="#4a3010"/>
<line x1="391.30" y1="194.20" x2="391.30" y2="264.60" stroke="#231f20" stroke-width="1.7"/>
<line x1="388.90" y1="264.60" x2="391.30" y2="264.60" stroke="#231f20" stroke-width="0.9"/>
<text x="385.10" y="266.90" font-size="6.6" text-anchor="end" fill="#2a2a2a" stroke="#2a2a2a">0</text>
<line x1="388.90" y1="247.62" x2="391.30" y2="247.62" stroke="#231f20" stroke-width="0.9"/>
<text x="385.10" y="249.93" font-size="6.6" text-anchor="end" fill="#2a2a2a" stroke="#2a2a2a">500</text>
<line x1="388.90" y1="230.65" x2="391.30" y2="230.65" stroke="#231f20" stroke-width="0.9"/>
<text x="385.10" y="232.95" font-size="6.6" text-anchor="end" fill="#2a2a2a" stroke="#2a2a2a">1000</text>
<line x1="388.90" y1="213.68" x2="391.30" y2="213.68" stroke="#231f20" stroke-width="0.9"/>
<text x="385.10" y="215.98" font-size="6.6" text-anchor="end" fill="#2a2a2a" stroke="#2a2a2a">1500</text>
<line x1="388.90" y1="196.70" x2="391.30" y2="196.70" stroke="#231f20" stroke-width="0.9"/>
<text x="385.10" y="199.00" font-size="6.6" text-anchor="end" fill="#2a2a2a" stroke="#2a2a2a">2000</text>
<line x1="388.50" y1="264.60" x2="431.20" y2="264.60" stroke="#231f20" stroke-width="1.7"/>
<line x1="396.60" y1="171.50" x2="425.50" y2="171.50" stroke="#3a3a3a" stroke-width="0.7"/>
<rect x="406.73" y="167.15" width="1.3" height="1.3" fill="#2a2a2a"/>
<rect x="409.18" y="167.15" width="1.3" height="1.3" fill="#2a2a2a"/>
<rect x="411.62" y="167.15" width="1.3" height="1.3" fill="#2a2a2a"/>
<rect x="414.08" y="167.15" width="1.3" height="1.3" fill="#2a2a2a"/>
<line x1="406.10" y1="179.50" x2="425.50" y2="179.50" stroke="#3a3a3a" stroke-width="0.7"/>
<rect x="411.48" y="175.15" width="1.3" height="1.3" fill="#2a2a2a"/>
<rect x="413.93" y="175.15" width="1.3" height="1.3" fill="#2a2a2a"/>
<rect x="416.38" y="175.15" width="1.3" height="1.3" fill="#2a2a2a"/>
<rect x="418.83" y="175.15" width="1.3" height="1.3" fill="#2a2a2a"/>
<line x1="396.60" y1="188.50" x2="415.70" y2="188.50" stroke="#3a3a3a" stroke-width="0.7"/>
<rect x="403.05" y="184.15" width="1.3" height="1.3" fill="#2a2a2a"/>
<rect x="405.50" y="184.15" width="1.3" height="1.3" fill="#2a2a2a"/>
<rect x="407.95" y="184.15" width="1.3" height="1.3" fill="#2a2a2a"/>
<line x1="415.70" y1="192.50" x2="425.50" y2="192.50" stroke="#3a3a3a" stroke-width="0.7"/>
<rect x="416.28" y="188.15" width="1.3" height="1.3" fill="#2a2a2a"/>
<rect x="418.73" y="188.15" width="1.3" height="1.3" fill="#2a2a2a"/>
<rect x="421.18" y="188.15" width="1.3" height="1.3" fill="#2a2a2a"/>
<rect x="423.63" y="188.15" width="1.3" height="1.3" fill="#2a2a2a"/>
<line x1="406.10" y1="197.50" x2="415.70" y2="197.50" stroke="#3a3a3a" stroke-width="0.7"/>
<rect x="409.02" y="193.15" width="1.3" height="1.3" fill="#2a2a2a"/>
<rect x="411.47" y="193.15" width="1.3" height="1.3" fill="#2a2a2a"/>
<line x1="396.60" y1="204.50" x2="406.10" y2="204.50" stroke="#3a3a3a" stroke-width="0.7"/>
<text x="401.35" y="201.90" font-size="6.3" text-anchor="middle" fill="#333" stroke="#333">ns</text>
<text transform="translate(362.00,226.40) rotate(-90)" x="0" y="0" font-size="7.2" text-anchor="middle" font-weight="bold" fill="#2a2a2a" stroke="#2a2a2a" style="stroke:none" textLength="43.3" lengthAdjust="spacingAndGlyphs">Mitosox gMFI</text>
<rect x="475.90" y="229.46" width="5.40" height="34.84" fill="#e3e3e7"/>
<rect x="485.70" y="228.57" width="5.40" height="35.73" fill="#a8cdef"/>
<rect x="495.00" y="251.35" width="5.40" height="12.95" fill="#e98a80"/>
<rect x="504.50" y="248.67" width="5.40" height="15.63" fill="#efc797"/>
<line x1="478.60" y1="221.42" x2="478.60" y2="229.46" stroke="#333" stroke-width="0.55"/>
<line x1="477.20" y1="221.42" x2="480.00" y2="221.42" stroke="#333" stroke-width="0.55"/>
<line x1="488.40" y1="220.30" x2="488.40" y2="228.57" stroke="#333" stroke-width="0.55"/>
<line x1="487.00" y1="220.30" x2="489.80" y2="220.30" stroke="#333" stroke-width="0.55"/>
<line x1="497.70" y1="245.99" x2="497.70" y2="251.35" stroke="#333" stroke-width="0.55"/>
<line x1="496.30" y1="245.99" x2="499.10" y2="245.99" stroke="#333" stroke-width="0.55"/>
<line x1="507.20" y1="233.48" x2="507.20" y2="248.67" stroke="#333" stroke-width="0.55"/>
<line x1="505.80" y1="233.48" x2="508.60" y2="233.48" stroke="#333" stroke-width="0.55"/>
<circle cx="478.60" cy="221.42" r="1.2" fill="#fff" stroke="#1a1a1a" stroke-width="0.75"/>
<circle cx="477.60" cy="227.23" r="1.2" fill="#fff" stroke="#1a1a1a" stroke-width="0.75"/>
<circle cx="479.60" cy="226.33" r="1.2" fill="#fff" stroke="#1a1a1a" stroke-width="0.75"/>
<circle cx="478.10" cy="229.01" r="1.2" fill="#fff" stroke="#1a1a1a" stroke-width="0.75"/>
<rect x="487.20" y="219.10" width="2.4" height="2.4" fill="#4a94c6" stroke="#134a70" stroke-width="0.7"/>
<rect x="486.20" y="225.58" width="2.4" height="2.4" fill="#4a94c6" stroke="#134a70" stroke-width="0.7"/>
<rect x="488.20" y="226.03" width="2.4" height="2.4" fill="#4a94c6" stroke="#134a70" stroke-width="0.7"/>
<rect x="487.20" y="227.37" width="2.4" height="2.4" fill="#4a94c6" stroke="#134a70" stroke-width="0.7"/>
<path d="M497.70,244.37 L499.19,247.20 L496.21,247.20 Z" fill="#4a0c12"/>
<path d="M496.70,249.28 L498.19,252.12 L495.21,252.12 Z" fill="#4a0c12"/>
<path d="M498.70,249.73 L500.19,252.56 L497.21,252.56 Z" fill="#4a0c12"/>
<path d="M497.70,250.62 L499.19,253.46 L496.21,253.46 Z" fill="#4a0c12"/>
<path d="M507.20,231.98 L508.70,233.48 L507.20,234.98 L505.70,233.48 Z" fill="#4a3010"/>
<path d="M506.20,244.93 L507.70,246.43 L506.20,247.93 L504.70,246.43 Z" fill="#4a3010"/>
<path d="M508.20,245.83 L509.70,247.33 L508.20,248.83 L506.70,247.33 Z" fill="#4a3010"/>
<path d="M507.20,246.72 L508.70,248.22 L507.20,249.72 L505.70,248.22 Z" fill="#4a3010"/>
<path d="M507.70,244.04 L509.20,245.54 L507.70,247.04 L506.20,245.54 Z" fill="#4a3010"/>
<line x1="473.10" y1="194.80" x2="473.10" y2="264.30" stroke="#231f20" stroke-width="1.7"/>
<line x1="470.70" y1="264.30" x2="473.10" y2="264.30" stroke="#231f20" stroke-width="0.9"/>
<text x="466.90" y="266.60" font-size="6.6" text-anchor="end" fill="#2a2a2a" stroke="#2a2a2a">0</text>
<line x1="470.70" y1="241.97" x2="473.10" y2="241.97" stroke="#231f20" stroke-width="0.9"/>
<text x="466.90" y="244.27" font-size="6.6" text-anchor="end" fill="#2a2a2a" stroke="#2a2a2a">500</text>
<line x1="470.70" y1="219.63" x2="473.10" y2="219.63" stroke="#231f20" stroke-width="0.9"/>
<text x="466.90" y="221.93" font-size="6.6" text-anchor="end" fill="#2a2a2a" stroke="#2a2a2a">1000</text>
<line x1="470.70" y1="197.30" x2="473.10" y2="197.30" stroke="#231f20" stroke-width="0.9"/>
<text x="466.90" y="199.60" font-size="6.6" text-anchor="end" fill="#2a2a2a" stroke="#2a2a2a">1500</text>
<line x1="470.40" y1="264.30" x2="512.70" y2="264.30" stroke="#231f20" stroke-width="1.7"/>
<line x1="478.60" y1="171.50" x2="507.20" y2="171.50" stroke="#3a3a3a" stroke-width="0.7"/>
<rect x="489.80" y="167.15" width="1.3" height="1.3" fill="#2a2a2a"/>
<rect x="492.25" y="167.15" width="1.3" height="1.3" fill="#2a2a2a"/>
<rect x="494.70" y="167.15" width="1.3" height="1.3" fill="#2a2a2a"/>
<line x1="488.40" y1="179.50" x2="507.20" y2="179.50" stroke="#3a3a3a" stroke-width="0.7"/>
<rect x="494.70" y="175.15" width="1.3" height="1.3" fill="#2a2a2a"/>
<rect x="497.15" y="175.15" width="1.3" height="1.3" fill="#2a2a2a"/>
<rect x="499.60" y="175.15" width="1.3" height="1.3" fill="#2a2a2a"/>
<line x1="478.60" y1="188.50" x2="497.70" y2="188.50" stroke="#3a3a3a" stroke-width="0.7"/>
<rect x="483.82" y="184.15" width="1.3" height="1.3" fill="#2a2a2a"/>
<rect x="486.27" y="184.15" width="1.3" height="1.3" fill="#2a2a2a"/>
<rect x="488.72" y="184.15" width="1.3" height="1.3" fill="#2a2a2a"/>
<rect x="491.18" y="184.15" width="1.3" height="1.3" fill="#2a2a2a"/>
<line x1="497.70" y1="194.50" x2="507.20" y2="194.50" stroke="#3a3a3a" stroke-width="0.7"/>
<text x="502.45" y="191.90" font-size="6.3" text-anchor="middle" fill="#333" stroke="#333">ns</text>
<line x1="488.40" y1="198.50" x2="497.70" y2="198.50" stroke="#3a3a3a" stroke-width="0.7"/>
<rect x="488.72" y="194.15" width="1.3" height="1.3" fill="#2a2a2a"/>
<rect x="491.17" y="194.15" width="1.3" height="1.3" fill="#2a2a2a"/>
<rect x="493.62" y="194.15" width="1.3" height="1.3" fill="#2a2a2a"/>
<rect x="496.07" y="194.15" width="1.3" height="1.3" fill="#2a2a2a"/>
<line x1="478.60" y1="204.50" x2="488.40" y2="204.50" stroke="#3a3a3a" stroke-width="0.7"/>
<text x="483.50" y="201.90" font-size="6.3" text-anchor="middle" fill="#333" stroke="#333">ns</text>
<text transform="translate(444.90,225.20) rotate(-90)" x="0" y="0" font-size="7.2" text-anchor="middle" font-weight="bold" fill="#2a2a2a" stroke="#2a2a2a" style="stroke:none" textLength="43.9" lengthAdjust="spacingAndGlyphs">2-NBDG gMFI</text>
<circle cx="384.00" cy="275.20" r="1.45" fill="#fff" stroke="#333" stroke-width="0.95"/>
<rect x="411.70" y="273.70" width="3.0" height="3.0" fill="#6aa6d2" stroke="#1a4a70" stroke-width="0.9"/>
<path d="M384.00,283.76 L385.87,287.33 L382.13,287.33 Z" fill="#4a0c12"/>
<path d="M413.00,283.90 L414.90,285.80 L413.00,287.70 L411.10,285.80 Z" fill="#b07838" stroke="#3a2408" stroke-width="0.8"/>
<text x="388.40" y="277.60" font-size="6.5" fill="#231f20" stroke="#231f20">Naive</text>
<text x="417.60" y="277.60" font-size="6.5" fill="#231f20" stroke="#231f20">CM</text>
<text x="388.40" y="288.20" font-size="6.5" fill="#231f20" stroke="#231f20">EM</text>
<text x="417.60" y="288.20" font-size="6.5" fill="#231f20" stroke="#231f20">Effector</text>
<rect x="0.6" y="0.6" width="518.8" height="295.8" fill="none" stroke="#3a3a3a" stroke-width="1.3"/>
</g>
</svg>
</body></html>
